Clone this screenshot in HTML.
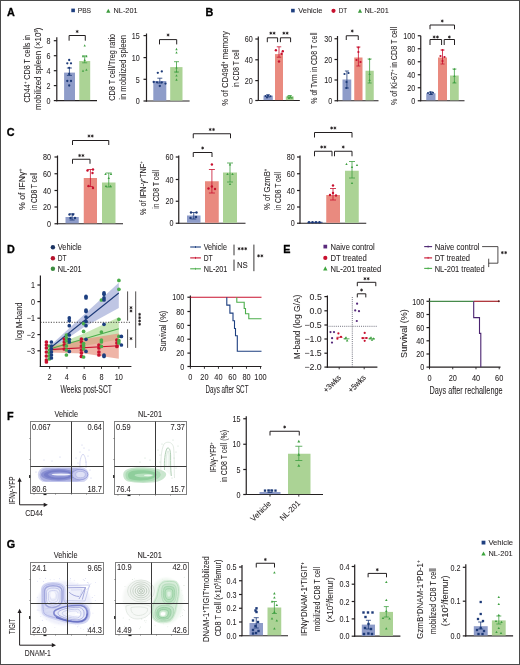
<!DOCTYPE html>
<html><head><meta charset="utf-8"><style>
html,body{margin:0;padding:0;background:#fff;}
body{width:520px;height:665px;overflow:hidden;}
svg{display:block;font-family:"Liberation Sans", sans-serif;will-change:transform;filter:blur(0.35px);}
.bd{position:absolute;left:0;top:0;width:520px;height:665px;box-sizing:border-box;border:1px solid #4a4a4a;}
.wrap{position:relative;width:520px;height:665px;overflow:hidden;background:#fff;}
text{-webkit-font-smoothing:antialiased;}
</style></head><body><div class="wrap">
<svg width="520" height="665" viewBox="0 0 520 665">
<defs><filter id="blur1" x="-20%" y="-20%" width="140%" height="140%"><feGaussianBlur stdDeviation="0.55"/></filter><filter id="blur2" x="-20%" y="-20%" width="140%" height="140%"><feGaussianBlur stdDeviation="0.8"/></filter></defs>
<rect x="0" y="0" width="520" height="665" fill="#fff"/>
<text x="7.04" y="16.2" font-size="10.8" font-weight="bold" fill="#000" stroke="#000" stroke-width="0.3">A</text>
<rect x="71.3" y="8.6" width="3.6" height="3.6" fill="#1f3f80" stroke="none" stroke-width="0" fill-opacity="1"/>
<text x="77.7" y="13.38" font-size="8" text-anchor="start" fill="#231f20" textLength="13.4" lengthAdjust="spacingAndGlyphs" stroke="#231f20" stroke-width="0.06">PBS</text>
<polygon points="108.3,8.81 106.2,12.79 110.4,12.79" fill="#3c9a3c" stroke="none" stroke-width="0" fill-opacity="1"/>
<text x="113.6" y="13.38" font-size="8" text-anchor="start" fill="#231f20" textLength="23.9" lengthAdjust="spacingAndGlyphs" stroke="#231f20" stroke-width="0.06">NL-201</text>
<line x1="56.8" y1="37.2" x2="56.8" y2="101.2" stroke="#231f20" stroke-width="1.2" stroke-linecap="butt"/>
<line x1="53.8" y1="100.6" x2="56.8" y2="100.6" stroke="#231f20" stroke-width="1.2" stroke-linecap="butt"/>
<text x="50.4" y="103.84" font-size="9" text-anchor="end" fill="#231f20" textLength="4" lengthAdjust="spacingAndGlyphs" stroke="#231f20" stroke-width="0.06">0</text>
<line x1="53.8" y1="85.6" x2="56.8" y2="85.6" stroke="#231f20" stroke-width="1.2" stroke-linecap="butt"/>
<text x="50.4" y="88.84" font-size="9" text-anchor="end" fill="#231f20" textLength="4" lengthAdjust="spacingAndGlyphs" stroke="#231f20" stroke-width="0.06">2</text>
<line x1="53.8" y1="70.7" x2="56.8" y2="70.7" stroke="#231f20" stroke-width="1.2" stroke-linecap="butt"/>
<text x="50.4" y="73.94" font-size="9" text-anchor="end" fill="#231f20" textLength="4" lengthAdjust="spacingAndGlyphs" stroke="#231f20" stroke-width="0.06">4</text>
<line x1="53.8" y1="55.7" x2="56.8" y2="55.7" stroke="#231f20" stroke-width="1.2" stroke-linecap="butt"/>
<text x="50.4" y="58.94" font-size="9" text-anchor="end" fill="#231f20" textLength="4" lengthAdjust="spacingAndGlyphs" stroke="#231f20" stroke-width="0.06">6</text>
<line x1="53.8" y1="40.7" x2="56.8" y2="40.7" stroke="#231f20" stroke-width="1.2" stroke-linecap="butt"/>
<text x="50.4" y="43.94" font-size="9" text-anchor="end" fill="#231f20" textLength="4" lengthAdjust="spacingAndGlyphs" stroke="#231f20" stroke-width="0.06">8</text>
<line x1="56.2" y1="100.6" x2="97" y2="100.6" stroke="#231f20" stroke-width="1.2" stroke-linecap="butt"/>
<rect x="64.1" y="72.6" width="10.9" height="27.6" fill="#8e9cc9" stroke="none" stroke-width="0" fill-opacity="1"/>
<rect x="79.3" y="61" width="10.9" height="39.2" fill="#abd395" stroke="none" stroke-width="0" fill-opacity="1"/>
<circle cx="69.2" cy="60" r="1.15" fill="#1d3a78"/>
<circle cx="67.3" cy="63.3" r="1.15" fill="#1d3a78"/>
<circle cx="71" cy="63.3" r="1.15" fill="#1d3a78"/>
<circle cx="69.2" cy="67.8" r="1.15" fill="#1d3a78"/>
<circle cx="67.3" cy="81" r="1.15" fill="#1d3a78"/>
<circle cx="71" cy="81" r="1.15" fill="#1d3a78"/>
<circle cx="69.2" cy="85.5" r="1.15" fill="#1d3a78"/>
<circle cx="69.2" cy="74" r="1.15" fill="#1d3a78"/>
<line x1="69.4" y1="68" x2="69.4" y2="75.4" stroke="#1d3a78" stroke-width="0.8" stroke-linecap="butt"/>
<line x1="66.9" y1="68" x2="71.9" y2="68" stroke="#1d3a78" stroke-width="0.8" stroke-linecap="butt"/>
<line x1="66.9" y1="75.4" x2="71.9" y2="75.4" stroke="#1d3a78" stroke-width="0.8" stroke-linecap="butt"/>
<polygon points="84.7,44.27 83.55,46.53 85.85,46.53" fill="#3fa041" stroke="none" stroke-width="0" fill-opacity="1"/>
<polygon points="83,55.06 81.85,57.33 84.15,57.33" fill="#3fa041" stroke="none" stroke-width="0" fill-opacity="1"/>
<polygon points="86.4,55.06 85.25,57.33 87.55,57.33" fill="#3fa041" stroke="none" stroke-width="0" fill-opacity="1"/>
<polygon points="83,69.56 81.85,71.83 84.15,71.83" fill="#3fa041" stroke="none" stroke-width="0" fill-opacity="1"/>
<polygon points="86.4,68.56 85.25,70.83 87.55,70.83" fill="#3fa041" stroke="none" stroke-width="0" fill-opacity="1"/>
<polygon points="84.7,58.77 83.55,61.03 85.85,61.03" fill="#3fa041" stroke="none" stroke-width="0" fill-opacity="1"/>
<line x1="84.7" y1="55.9" x2="84.7" y2="62.8" stroke="#3fa041" stroke-width="0.8" stroke-linecap="butt"/>
<line x1="82.2" y1="55.9" x2="87.2" y2="55.9" stroke="#3fa041" stroke-width="0.8" stroke-linecap="butt"/>
<line x1="82.2" y1="62.8" x2="87.2" y2="62.8" stroke="#3fa041" stroke-width="0.8" stroke-linecap="butt"/>
<polyline points="69.1,40.7 69.1,35.5 85.3,35.5 85.3,40.7" fill="none" stroke="#231f20" stroke-width="1.0" />
<path d="M77.2,30.3L77.2,32.7M78.24,30.9L76.16,32.1M78.24,32.1L76.16,30.9" stroke="#231f20" stroke-width="0.65" fill="none" stroke-linecap="round"/>
<circle cx="77.2" cy="31.5" r="0.85" fill="#231f20"/>
<text transform="translate(26.3,68.8) rotate(-90)" x="0" y="3.35" font-size="9.3" text-anchor="middle" fill="#231f20" textLength="67.6" lengthAdjust="spacingAndGlyphs" stroke="#231f20" stroke-width="0.06">CD44<tspan baseline-shift="super" font-size="5.2">+</tspan> CD8 T cells in</text>
<text transform="translate(37.8,68.75) rotate(-90)" x="0" y="3.35" font-size="9.3" text-anchor="middle" fill="#231f20" textLength="82.5" lengthAdjust="spacingAndGlyphs" stroke="#231f20" stroke-width="0.06">mobilized spleen (×10<tspan baseline-shift="super" font-size="5.2">6</tspan>)</text>
<line x1="146.5" y1="33.5" x2="146.5" y2="101.6" stroke="#231f20" stroke-width="1.2" stroke-linecap="butt"/>
<line x1="143.5" y1="101" x2="146.5" y2="101" stroke="#231f20" stroke-width="1.2" stroke-linecap="butt"/>
<text x="139.7" y="104.24" font-size="9" text-anchor="end" fill="#231f20" textLength="4" lengthAdjust="spacingAndGlyphs" stroke="#231f20" stroke-width="0.06">0</text>
<line x1="143.5" y1="79.3" x2="146.5" y2="79.3" stroke="#231f20" stroke-width="1.2" stroke-linecap="butt"/>
<text x="139.7" y="82.54" font-size="9" text-anchor="end" fill="#231f20" textLength="4" lengthAdjust="spacingAndGlyphs" stroke="#231f20" stroke-width="0.06">5</text>
<line x1="143.5" y1="57.6" x2="146.5" y2="57.6" stroke="#231f20" stroke-width="1.2" stroke-linecap="butt"/>
<text x="139.7" y="60.84" font-size="9" text-anchor="end" fill="#231f20" textLength="8.01" lengthAdjust="spacingAndGlyphs" stroke="#231f20" stroke-width="0.06">10</text>
<line x1="143.5" y1="35.6" x2="146.5" y2="35.6" stroke="#231f20" stroke-width="1.2" stroke-linecap="butt"/>
<text x="139.7" y="38.84" font-size="9" text-anchor="end" fill="#231f20" textLength="8.01" lengthAdjust="spacingAndGlyphs" stroke="#231f20" stroke-width="0.06">15</text>
<line x1="145.9" y1="101" x2="189.6" y2="101" stroke="#231f20" stroke-width="1.2" stroke-linecap="butt"/>
<rect x="153.3" y="81" width="13" height="19.6" fill="#8e9cc9" stroke="none" stroke-width="0" fill-opacity="1"/>
<rect x="170.2" y="67.1" width="12.3" height="33.5" fill="#abd395" stroke="none" stroke-width="0" fill-opacity="1"/>
<circle cx="157.8" cy="72.8" r="1.15" fill="#1d3a78"/>
<circle cx="161.8" cy="71.4" r="1.15" fill="#1d3a78"/>
<circle cx="153.7" cy="82" r="1.15" fill="#1d3a78"/>
<circle cx="165.5" cy="83.6" r="1.15" fill="#1d3a78"/>
<circle cx="157" cy="82.3" r="1.15" fill="#1d3a78"/>
<circle cx="159.8" cy="86" r="1.15" fill="#1d3a78"/>
<circle cx="161.8" cy="82.3" r="1.15" fill="#1d3a78"/>
<line x1="159.8" y1="78.2" x2="159.8" y2="83" stroke="#1d3a78" stroke-width="0.8" stroke-linecap="butt"/>
<line x1="157.3" y1="78.2" x2="162.3" y2="78.2" stroke="#1d3a78" stroke-width="0.8" stroke-linecap="butt"/>
<line x1="157.3" y1="83" x2="162.3" y2="83" stroke="#1d3a78" stroke-width="0.8" stroke-linecap="butt"/>
<polygon points="176.5,47.87 175.35,50.13 177.65,50.13" fill="#3fa041" stroke="none" stroke-width="0" fill-opacity="1"/>
<polygon points="176.5,51.27 175.35,53.53 177.65,53.53" fill="#3fa041" stroke="none" stroke-width="0" fill-opacity="1"/>
<polygon points="176.5,66.17 175.35,68.44 177.65,68.44" fill="#3fa041" stroke="none" stroke-width="0" fill-opacity="1"/>
<polygon points="176.5,70.17 175.35,72.44 177.65,72.44" fill="#3fa041" stroke="none" stroke-width="0" fill-opacity="1"/>
<polygon points="176.5,74.27 175.35,76.53 177.65,76.53" fill="#3fa041" stroke="none" stroke-width="0" fill-opacity="1"/>
<polygon points="176.5,78.36 175.35,80.63 177.65,80.63" fill="#3fa041" stroke="none" stroke-width="0" fill-opacity="1"/>
<line x1="176.5" y1="61.7" x2="176.5" y2="72" stroke="#3fa041" stroke-width="0.8" stroke-linecap="butt"/>
<line x1="174" y1="61.7" x2="179" y2="61.7" stroke="#3fa041" stroke-width="0.8" stroke-linecap="butt"/>
<line x1="174" y1="72" x2="179" y2="72" stroke="#3fa041" stroke-width="0.8" stroke-linecap="butt"/>
<polyline points="159.5,44.4 159.5,39.6 176.7,39.6 176.7,44.4" fill="none" stroke="#231f20" stroke-width="1.0" />
<path d="M168.1,33.8L168.1,36.2M169.14,34.4L167.06,35.6M169.14,35.6L167.06,34.4" stroke="#231f20" stroke-width="0.65" fill="none" stroke-linecap="round"/>
<circle cx="168.1" cy="35" r="0.85" fill="#231f20"/>
<text transform="translate(112,67.35) rotate(-90)" x="0" y="3.35" font-size="9.3" text-anchor="middle" fill="#231f20" textLength="66.9" lengthAdjust="spacingAndGlyphs" stroke="#231f20" stroke-width="0.06">CD8 T cell/Treg ratio</text>
<text transform="translate(122.3,67.35) rotate(-90)" x="0" y="3.35" font-size="9.3" text-anchor="middle" fill="#231f20" textLength="64.7" lengthAdjust="spacingAndGlyphs" stroke="#231f20" stroke-width="0.06">in mobilized spleen</text>
<text x="205.6" y="16.2" font-size="10.8" font-weight="bold" fill="#000" stroke="#000" stroke-width="0.3">B</text>
<rect x="291.1" y="8.8" width="3.6" height="3.6" fill="#1f3f80" stroke="none" stroke-width="0" fill-opacity="1"/>
<text x="298.2" y="13.38" font-size="8" text-anchor="start" fill="#231f20" textLength="24.1" lengthAdjust="spacingAndGlyphs" stroke="#231f20" stroke-width="0.06">Vehicle</text>
<circle cx="333.5" cy="10.8" r="2.1" fill="#c8102e"/>
<text x="338.7" y="13.38" font-size="8" text-anchor="start" fill="#231f20" textLength="8.5" lengthAdjust="spacingAndGlyphs" stroke="#231f20" stroke-width="0.06">DT</text>
<polygon points="360,8.81 357.9,12.79 362.1,12.79" fill="#3c9a3c" stroke="none" stroke-width="0" fill-opacity="1"/>
<text x="364.5" y="13.38" font-size="8" text-anchor="start" fill="#231f20" textLength="24.25" lengthAdjust="spacingAndGlyphs" stroke="#231f20" stroke-width="0.06">NL-201</text>
<line x1="258.3" y1="36.4" x2="258.3" y2="101.1" stroke="#231f20" stroke-width="1.2" stroke-linecap="butt"/>
<line x1="255.3" y1="100.5" x2="258.3" y2="100.5" stroke="#231f20" stroke-width="1.2" stroke-linecap="butt"/>
<text x="252.8" y="103.74" font-size="9" text-anchor="end" fill="#231f20" textLength="4" lengthAdjust="spacingAndGlyphs" stroke="#231f20" stroke-width="0.06">0</text>
<line x1="255.3" y1="80.6" x2="258.3" y2="80.6" stroke="#231f20" stroke-width="1.2" stroke-linecap="butt"/>
<text x="252.8" y="83.84" font-size="9" text-anchor="end" fill="#231f20" textLength="8.01" lengthAdjust="spacingAndGlyphs" stroke="#231f20" stroke-width="0.06">20</text>
<line x1="255.3" y1="59.8" x2="258.3" y2="59.8" stroke="#231f20" stroke-width="1.2" stroke-linecap="butt"/>
<text x="252.8" y="63.04" font-size="9" text-anchor="end" fill="#231f20" textLength="8.01" lengthAdjust="spacingAndGlyphs" stroke="#231f20" stroke-width="0.06">40</text>
<line x1="255.3" y1="39" x2="258.3" y2="39" stroke="#231f20" stroke-width="1.2" stroke-linecap="butt"/>
<text x="252.8" y="42.24" font-size="9" text-anchor="end" fill="#231f20" textLength="8.01" lengthAdjust="spacingAndGlyphs" stroke="#231f20" stroke-width="0.06">60</text>
<line x1="257.7" y1="100.5" x2="299.8" y2="100.5" stroke="#231f20" stroke-width="1.2" stroke-linecap="butt"/>
<rect x="263.5" y="95.6" width="9.3" height="4.5" fill="#8e9cc9" stroke="none" stroke-width="0" fill-opacity="1"/>
<rect x="275" y="54.1" width="8" height="46" fill="#e98a7f" stroke="none" stroke-width="0" fill-opacity="1"/>
<rect x="285.8" y="96.4" width="7.9" height="3.7" fill="#abd395" stroke="none" stroke-width="0" fill-opacity="1"/>
<circle cx="265.5" cy="96" r="1" fill="#1d3a78"/>
<circle cx="268" cy="95.5" r="1" fill="#1d3a78"/>
<circle cx="270.5" cy="96.2" r="1" fill="#1d3a78"/>
<circle cx="267" cy="97.5" r="1" fill="#1d3a78"/>
<polygon points="288,95.27 286.85,97.53 289.15,97.53" fill="#3fa041" stroke="none" stroke-width="0" fill-opacity="1"/>
<polygon points="290.5,95.56 289.35,97.83 291.65,97.83" fill="#3fa041" stroke="none" stroke-width="0" fill-opacity="1"/>
<polygon points="292,96.27 290.85,98.53 293.15,98.53" fill="#3fa041" stroke="none" stroke-width="0" fill-opacity="1"/>
<polygon points="289,96.77 287.85,99.03 290.15,99.03" fill="#3fa041" stroke="none" stroke-width="0" fill-opacity="1"/>
<line x1="268" y1="94.8" x2="268" y2="97" stroke="#1d3a78" stroke-width="0.8" stroke-linecap="butt"/>
<line x1="266" y1="94.8" x2="270" y2="94.8" stroke="#1d3a78" stroke-width="0.8" stroke-linecap="butt"/>
<line x1="266" y1="97" x2="270" y2="97" stroke="#1d3a78" stroke-width="0.8" stroke-linecap="butt"/>
<line x1="289.8" y1="95.5" x2="289.8" y2="98" stroke="#3fa041" stroke-width="0.8" stroke-linecap="butt"/>
<line x1="287.8" y1="95.5" x2="291.8" y2="95.5" stroke="#3fa041" stroke-width="0.8" stroke-linecap="butt"/>
<line x1="287.8" y1="98" x2="291.8" y2="98" stroke="#3fa041" stroke-width="0.8" stroke-linecap="butt"/>
<circle cx="275.9" cy="50.3" r="1.2" fill="#c8102e"/>
<circle cx="282.8" cy="51.2" r="1.2" fill="#c8102e"/>
<circle cx="281.6" cy="53.7" r="1.2" fill="#c8102e"/>
<circle cx="279" cy="61.5" r="1.2" fill="#c8102e"/>
<line x1="279" y1="46.8" x2="279" y2="57.2" stroke="#c8102e" stroke-width="0.8" stroke-linecap="butt"/>
<line x1="276.75" y1="46.8" x2="281.25" y2="46.8" stroke="#c8102e" stroke-width="0.8" stroke-linecap="butt"/>
<line x1="276.75" y1="57.2" x2="281.25" y2="57.2" stroke="#c8102e" stroke-width="0.8" stroke-linecap="butt"/>
<polyline points="267.3,42.2 267.3,37.8 277.6,37.8 277.6,42.2" fill="none" stroke="#231f20" stroke-width="1.0" />
<path d="M270.8,32L270.8,34.4M271.84,32.6L269.76,33.8M271.84,33.8L269.76,32.6" stroke="#231f20" stroke-width="0.65" fill="none" stroke-linecap="round"/>
<circle cx="270.8" cy="33.2" r="0.85" fill="#231f20"/>
<path d="M274.1,32L274.1,34.4M275.14,32.6L273.06,33.8M275.14,33.8L273.06,32.6" stroke="#231f20" stroke-width="0.65" fill="none" stroke-linecap="round"/>
<circle cx="274.1" cy="33.2" r="0.85" fill="#231f20"/>
<polyline points="280.4,42.2 280.4,37.8 290.6,37.8 290.6,42.2" fill="none" stroke="#231f20" stroke-width="1.0" />
<path d="M283.85,32L283.85,34.4M284.89,32.6L282.81,33.8M284.89,33.8L282.81,32.6" stroke="#231f20" stroke-width="0.65" fill="none" stroke-linecap="round"/>
<circle cx="283.85" cy="33.2" r="0.85" fill="#231f20"/>
<path d="M287.15,32L287.15,34.4M288.19,32.6L286.11,33.8M288.19,33.8L286.11,32.6" stroke="#231f20" stroke-width="0.65" fill="none" stroke-linecap="round"/>
<circle cx="287.15" cy="33.2" r="0.85" fill="#231f20"/>
<text transform="translate(224.5,68.45) rotate(-90)" x="0" y="3.35" font-size="9.3" text-anchor="middle" fill="#231f20" textLength="74.5" lengthAdjust="spacingAndGlyphs" stroke="#231f20" stroke-width="0.06">% of CD49d<tspan baseline-shift="super" font-size="5.2">+</tspan> memory</text>
<text transform="translate(235.8,68.45) rotate(-90)" x="0" y="3.35" font-size="9.3" text-anchor="middle" fill="#231f20" textLength="38.1" lengthAdjust="spacingAndGlyphs" stroke="#231f20" stroke-width="0.06">in CD8 T cell</text>
<line x1="337.5" y1="36" x2="337.5" y2="101.35" stroke="#231f20" stroke-width="1.2" stroke-linecap="butt"/>
<line x1="334.5" y1="100.75" x2="337.5" y2="100.75" stroke="#231f20" stroke-width="1.2" stroke-linecap="butt"/>
<text x="332.3" y="103.99" font-size="9" text-anchor="end" fill="#231f20" textLength="4" lengthAdjust="spacingAndGlyphs" stroke="#231f20" stroke-width="0.06">0</text>
<line x1="334.5" y1="80" x2="337.5" y2="80" stroke="#231f20" stroke-width="1.2" stroke-linecap="butt"/>
<text x="332.3" y="83.24" font-size="9" text-anchor="end" fill="#231f20" textLength="8.01" lengthAdjust="spacingAndGlyphs" stroke="#231f20" stroke-width="0.06">10</text>
<line x1="334.5" y1="59.5" x2="337.5" y2="59.5" stroke="#231f20" stroke-width="1.2" stroke-linecap="butt"/>
<text x="332.3" y="62.74" font-size="9" text-anchor="end" fill="#231f20" textLength="8.01" lengthAdjust="spacingAndGlyphs" stroke="#231f20" stroke-width="0.06">20</text>
<line x1="334.5" y1="38.75" x2="337.5" y2="38.75" stroke="#231f20" stroke-width="1.2" stroke-linecap="butt"/>
<text x="332.3" y="41.99" font-size="9" text-anchor="end" fill="#231f20" textLength="8.01" lengthAdjust="spacingAndGlyphs" stroke="#231f20" stroke-width="0.06">30</text>
<line x1="336.9" y1="100.75" x2="378.5" y2="100.75" stroke="#231f20" stroke-width="1.2" stroke-linecap="butt"/>
<rect x="342.5" y="79.5" width="8.75" height="20.8" fill="#8e9cc9" stroke="none" stroke-width="0" fill-opacity="1"/>
<rect x="354.25" y="57.5" width="8.25" height="42.8" fill="#e98a7f" stroke="none" stroke-width="0" fill-opacity="1"/>
<rect x="365.5" y="70.75" width="8.25" height="29.55" fill="#abd395" stroke="none" stroke-width="0" fill-opacity="1"/>
<circle cx="344.5" cy="74" r="1.1" fill="#1d3a78"/>
<circle cx="348.5" cy="73" r="1.1" fill="#1d3a78"/>
<circle cx="346.5" cy="82" r="1.1" fill="#1d3a78"/>
<circle cx="346.5" cy="88" r="1.1" fill="#1d3a78"/>
<line x1="346.9" y1="71" x2="346.9" y2="88" stroke="#1d3a78" stroke-width="0.8" stroke-linecap="butt"/>
<line x1="344.9" y1="71" x2="348.9" y2="71" stroke="#1d3a78" stroke-width="0.8" stroke-linecap="butt"/>
<line x1="344.9" y1="88" x2="348.9" y2="88" stroke="#1d3a78" stroke-width="0.8" stroke-linecap="butt"/>
<circle cx="358.4" cy="47.5" r="1.1" fill="#c8102e"/>
<circle cx="358.4" cy="52" r="1.1" fill="#c8102e"/>
<circle cx="356.5" cy="60" r="1.1" fill="#c8102e"/>
<circle cx="360.5" cy="62" r="1.1" fill="#c8102e"/>
<line x1="358.4" y1="47" x2="358.4" y2="66" stroke="#c8102e" stroke-width="0.8" stroke-linecap="butt"/>
<line x1="356.4" y1="47" x2="360.4" y2="47" stroke="#c8102e" stroke-width="0.8" stroke-linecap="butt"/>
<line x1="356.4" y1="66" x2="360.4" y2="66" stroke="#c8102e" stroke-width="0.8" stroke-linecap="butt"/>
<polygon points="369.6,57.77 368.45,60.03 370.75,60.03" fill="#3fa041" stroke="none" stroke-width="0" fill-opacity="1"/>
<polygon points="369.6,72.77 368.45,75.03 370.75,75.03" fill="#3fa041" stroke="none" stroke-width="0" fill-opacity="1"/>
<polygon points="369.6,78.77 368.45,81.03 370.75,81.03" fill="#3fa041" stroke="none" stroke-width="0" fill-opacity="1"/>
<line x1="369.6" y1="59" x2="369.6" y2="83" stroke="#3fa041" stroke-width="0.8" stroke-linecap="butt"/>
<line x1="367.6" y1="59" x2="371.6" y2="59" stroke="#3fa041" stroke-width="0.8" stroke-linecap="butt"/>
<line x1="367.6" y1="83" x2="371.6" y2="83" stroke="#3fa041" stroke-width="0.8" stroke-linecap="butt"/>
<polyline points="346.25,40 346.25,35.75 358.25,35.75 358.25,40" fill="none" stroke="#231f20" stroke-width="1.0" />
<path d="M352.25,29.8L352.25,32.2M353.29,30.4L351.21,31.6M353.29,31.6L351.21,30.4" stroke="#231f20" stroke-width="0.65" fill="none" stroke-linecap="round"/>
<circle cx="352.25" cy="31" r="0.85" fill="#231f20"/>
<text transform="translate(313.75,68.12) rotate(-90)" x="0" y="3.35" font-size="9.3" text-anchor="middle" fill="#231f20" textLength="71.25" lengthAdjust="spacingAndGlyphs" stroke="#231f20" stroke-width="0.06">% of Tvm in CD8 T cell</text>
<line x1="420.75" y1="35.75" x2="420.75" y2="101.35" stroke="#231f20" stroke-width="1.2" stroke-linecap="butt"/>
<line x1="417.75" y1="100.75" x2="420.75" y2="100.75" stroke="#231f20" stroke-width="1.2" stroke-linecap="butt"/>
<text x="415.3" y="103.99" font-size="9" text-anchor="end" fill="#231f20" textLength="4" lengthAdjust="spacingAndGlyphs" stroke="#231f20" stroke-width="0.06">0</text>
<line x1="417.75" y1="87.75" x2="420.75" y2="87.75" stroke="#231f20" stroke-width="1.2" stroke-linecap="butt"/>
<text x="415.3" y="90.99" font-size="9" text-anchor="end" fill="#231f20" textLength="8.01" lengthAdjust="spacingAndGlyphs" stroke="#231f20" stroke-width="0.06">20</text>
<line x1="417.75" y1="74.75" x2="420.75" y2="74.75" stroke="#231f20" stroke-width="1.2" stroke-linecap="butt"/>
<text x="415.3" y="77.99" font-size="9" text-anchor="end" fill="#231f20" textLength="8.01" lengthAdjust="spacingAndGlyphs" stroke="#231f20" stroke-width="0.06">40</text>
<line x1="417.75" y1="61.75" x2="420.75" y2="61.75" stroke="#231f20" stroke-width="1.2" stroke-linecap="butt"/>
<text x="415.3" y="64.99" font-size="9" text-anchor="end" fill="#231f20" textLength="8.01" lengthAdjust="spacingAndGlyphs" stroke="#231f20" stroke-width="0.06">60</text>
<line x1="417.75" y1="48.75" x2="420.75" y2="48.75" stroke="#231f20" stroke-width="1.2" stroke-linecap="butt"/>
<text x="415.3" y="51.99" font-size="9" text-anchor="end" fill="#231f20" textLength="8.01" lengthAdjust="spacingAndGlyphs" stroke="#231f20" stroke-width="0.06">80</text>
<line x1="417.75" y1="35.75" x2="420.75" y2="35.75" stroke="#231f20" stroke-width="1.2" stroke-linecap="butt"/>
<text x="415.3" y="38.99" font-size="9" text-anchor="end" fill="#231f20" textLength="12.01" lengthAdjust="spacingAndGlyphs" stroke="#231f20" stroke-width="0.06">100</text>
<line x1="420.15" y1="100.75" x2="464.5" y2="100.75" stroke="#231f20" stroke-width="1.2" stroke-linecap="butt"/>
<rect x="426.25" y="93.25" width="9.25" height="7.05" fill="#8e9cc9" stroke="none" stroke-width="0" fill-opacity="1"/>
<rect x="438" y="57.5" width="9" height="42.8" fill="#e98a7f" stroke="none" stroke-width="0" fill-opacity="1"/>
<rect x="450" y="75.5" width="8.75" height="24.8" fill="#abd395" stroke="none" stroke-width="0" fill-opacity="1"/>
<circle cx="428" cy="93" r="1" fill="#1d3a78"/>
<circle cx="430.5" cy="92.3" r="1" fill="#1d3a78"/>
<circle cx="433" cy="92.8" r="1" fill="#1d3a78"/>
<circle cx="431" cy="94" r="1" fill="#1d3a78"/>
<line x1="430.9" y1="92" x2="430.9" y2="94.5" stroke="#1d3a78" stroke-width="0.8" stroke-linecap="butt"/>
<line x1="428.9" y1="92" x2="432.9" y2="92" stroke="#1d3a78" stroke-width="0.8" stroke-linecap="butt"/>
<line x1="428.9" y1="94.5" x2="432.9" y2="94.5" stroke="#1d3a78" stroke-width="0.8" stroke-linecap="butt"/>
<circle cx="442.5" cy="50" r="1.1" fill="#c8102e"/>
<circle cx="440.5" cy="56" r="1.1" fill="#c8102e"/>
<circle cx="444.5" cy="57" r="1.1" fill="#c8102e"/>
<circle cx="442.5" cy="61" r="1.1" fill="#c8102e"/>
<line x1="442.5" y1="50" x2="442.5" y2="64" stroke="#c8102e" stroke-width="0.8" stroke-linecap="butt"/>
<line x1="440.5" y1="50" x2="444.5" y2="50" stroke="#c8102e" stroke-width="0.8" stroke-linecap="butt"/>
<line x1="440.5" y1="64" x2="444.5" y2="64" stroke="#c8102e" stroke-width="0.8" stroke-linecap="butt"/>
<polygon points="454.4,67.77 453.25,70.03 455.55,70.03" fill="#3fa041" stroke="none" stroke-width="0" fill-opacity="1"/>
<polygon points="454.4,74.77 453.25,77.03 455.55,77.03" fill="#3fa041" stroke="none" stroke-width="0" fill-opacity="1"/>
<polygon points="454.4,80.77 453.25,83.03 455.55,83.03" fill="#3fa041" stroke="none" stroke-width="0" fill-opacity="1"/>
<line x1="454.4" y1="69" x2="454.4" y2="83" stroke="#3fa041" stroke-width="0.8" stroke-linecap="butt"/>
<line x1="452.4" y1="69" x2="456.4" y2="69" stroke="#3fa041" stroke-width="0.8" stroke-linecap="butt"/>
<line x1="452.4" y1="83" x2="456.4" y2="83" stroke="#3fa041" stroke-width="0.8" stroke-linecap="butt"/>
<polyline points="430,29.25 430,25 454.5,25 454.5,29.25" fill="none" stroke="#231f20" stroke-width="1.0" />
<path d="M442.25,19.8L442.25,22.2M443.29,20.4L441.21,21.6M443.29,21.6L441.21,20.4" stroke="#231f20" stroke-width="0.65" fill="none" stroke-linecap="round"/>
<circle cx="442.25" cy="21" r="0.85" fill="#231f20"/>
<polyline points="430,45 430,39.5 441.6,39.5 441.6,45" fill="none" stroke="#231f20" stroke-width="1.0" />
<path d="M434.15,35.8L434.15,38.2M435.19,36.4L433.11,37.6M435.19,37.6L433.11,36.4" stroke="#231f20" stroke-width="0.65" fill="none" stroke-linecap="round"/>
<circle cx="434.15" cy="37" r="0.85" fill="#231f20"/>
<path d="M437.45,35.8L437.45,38.2M438.49,36.4L436.41,37.6M438.49,37.6L436.41,36.4" stroke="#231f20" stroke-width="0.65" fill="none" stroke-linecap="round"/>
<circle cx="437.45" cy="37" r="0.85" fill="#231f20"/>
<polyline points="444.2,45 444.2,39.5 454.5,39.5 454.5,45" fill="none" stroke="#231f20" stroke-width="1.0" />
<path d="M449.35,35.8L449.35,38.2M450.39,36.4L448.31,37.6M450.39,37.6L448.31,36.4" stroke="#231f20" stroke-width="0.65" fill="none" stroke-linecap="round"/>
<circle cx="449.35" cy="37" r="0.85" fill="#231f20"/>
<text transform="translate(393.75,66) rotate(-90)" x="0" y="3.35" font-size="9.3" text-anchor="middle" fill="#231f20" textLength="78" lengthAdjust="spacingAndGlyphs" stroke="#231f20" stroke-width="0.06">% of Ki-67<tspan baseline-shift="super" font-size="5.2">+</tspan> in CD8 T cell</text>
<text x="6.86" y="136.1" font-size="10.8" font-weight="bold" fill="#000" stroke="#000" stroke-width="0.3">C</text>
<line x1="57.5" y1="155.5" x2="57.5" y2="224.35" stroke="#231f20" stroke-width="1.2" stroke-linecap="butt"/>
<line x1="54.5" y1="223.75" x2="57.5" y2="223.75" stroke="#231f20" stroke-width="1.2" stroke-linecap="butt"/>
<text x="51" y="226.99" font-size="9" text-anchor="end" fill="#231f20" textLength="4" lengthAdjust="spacingAndGlyphs" stroke="#231f20" stroke-width="0.06">0</text>
<line x1="54.5" y1="207" x2="57.5" y2="207" stroke="#231f20" stroke-width="1.2" stroke-linecap="butt"/>
<text x="51" y="210.24" font-size="9" text-anchor="end" fill="#231f20" textLength="8.01" lengthAdjust="spacingAndGlyphs" stroke="#231f20" stroke-width="0.06">20</text>
<line x1="54.5" y1="190.5" x2="57.5" y2="190.5" stroke="#231f20" stroke-width="1.2" stroke-linecap="butt"/>
<text x="51" y="193.74" font-size="9" text-anchor="end" fill="#231f20" textLength="8.01" lengthAdjust="spacingAndGlyphs" stroke="#231f20" stroke-width="0.06">40</text>
<line x1="54.5" y1="173.75" x2="57.5" y2="173.75" stroke="#231f20" stroke-width="1.2" stroke-linecap="butt"/>
<text x="51" y="176.99" font-size="9" text-anchor="end" fill="#231f20" textLength="8.01" lengthAdjust="spacingAndGlyphs" stroke="#231f20" stroke-width="0.06">60</text>
<line x1="54.5" y1="157" x2="57.5" y2="157" stroke="#231f20" stroke-width="1.2" stroke-linecap="butt"/>
<text x="51" y="160.24" font-size="9" text-anchor="end" fill="#231f20" textLength="8.01" lengthAdjust="spacingAndGlyphs" stroke="#231f20" stroke-width="0.06">80</text>
<line x1="56.9" y1="223.75" x2="123" y2="223.75" stroke="#231f20" stroke-width="1.2" stroke-linecap="butt"/>
<rect x="65.5" y="217" width="13.25" height="6.3" fill="#8e9cc9" stroke="none" stroke-width="0" fill-opacity="1"/>
<rect x="83.75" y="178" width="13.25" height="45.3" fill="#e98a7f" stroke="none" stroke-width="0" fill-opacity="1"/>
<rect x="102" y="182.5" width="13.5" height="40.8" fill="#abd395" stroke="none" stroke-width="0" fill-opacity="1"/>
<circle cx="69.5" cy="214.5" r="1.2" fill="#1d3a78"/>
<circle cx="73" cy="214.5" r="1.2" fill="#1d3a78"/>
<circle cx="70.5" cy="218" r="1.2" fill="#1d3a78"/>
<circle cx="75" cy="218" r="1.2" fill="#1d3a78"/>
<line x1="72.1" y1="213.8" x2="72.1" y2="220" stroke="#1d3a78" stroke-width="0.8" stroke-linecap="butt"/>
<line x1="69.6" y1="213.8" x2="74.6" y2="213.8" stroke="#1d3a78" stroke-width="0.8" stroke-linecap="butt"/>
<line x1="69.6" y1="220" x2="74.6" y2="220" stroke="#1d3a78" stroke-width="0.8" stroke-linecap="butt"/>
<circle cx="87.5" cy="170.5" r="1.2" fill="#c8102e"/>
<circle cx="93" cy="169.5" r="1.2" fill="#c8102e"/>
<circle cx="92.5" cy="173" r="1.2" fill="#c8102e"/>
<circle cx="88.5" cy="186" r="1.2" fill="#c8102e"/>
<circle cx="93" cy="188" r="1.2" fill="#c8102e"/>
<line x1="90.4" y1="169.5" x2="90.4" y2="186.5" stroke="#c8102e" stroke-width="0.8" stroke-linecap="butt"/>
<line x1="87.4" y1="169.5" x2="93.4" y2="169.5" stroke="#c8102e" stroke-width="0.8" stroke-linecap="butt"/>
<line x1="87.4" y1="186.5" x2="93.4" y2="186.5" stroke="#c8102e" stroke-width="0.8" stroke-linecap="butt"/>
<polygon points="105.5,172.72 104.3,175.08 106.7,175.08" fill="#3fa041" stroke="none" stroke-width="0" fill-opacity="1"/>
<polygon points="111,172.72 109.8,175.08 112.2,175.08" fill="#3fa041" stroke="none" stroke-width="0" fill-opacity="1"/>
<polygon points="108.75,176.72 107.55,179.08 109.95,179.08" fill="#3fa041" stroke="none" stroke-width="0" fill-opacity="1"/>
<polygon points="106,184.72 104.8,187.08 107.2,187.08" fill="#3fa041" stroke="none" stroke-width="0" fill-opacity="1"/>
<polygon points="110.5,184.72 109.3,187.08 111.7,187.08" fill="#3fa041" stroke="none" stroke-width="0" fill-opacity="1"/>
<line x1="108.75" y1="173" x2="108.75" y2="187" stroke="#3fa041" stroke-width="0.8" stroke-linecap="butt"/>
<line x1="105.75" y1="173" x2="111.75" y2="173" stroke="#3fa041" stroke-width="0.8" stroke-linecap="butt"/>
<line x1="105.75" y1="187" x2="111.75" y2="187" stroke="#3fa041" stroke-width="0.8" stroke-linecap="butt"/>
<polyline points="72.5,163.75 72.5,159.25 90,159.25 90,163.75" fill="none" stroke="#231f20" stroke-width="1.0" />
<path d="M79.6,154.3L79.6,156.7M80.64,154.9L78.56,156.1M80.64,156.1L78.56,154.9" stroke="#231f20" stroke-width="0.65" fill="none" stroke-linecap="round"/>
<circle cx="79.6" cy="155.5" r="0.85" fill="#231f20"/>
<path d="M82.9,154.3L82.9,156.7M83.94,154.9L81.86,156.1M83.94,156.1L81.86,154.9" stroke="#231f20" stroke-width="0.65" fill="none" stroke-linecap="round"/>
<circle cx="82.9" cy="155.5" r="0.85" fill="#231f20"/>
<polyline points="72.5,145 72.5,140.5 108.75,140.5 108.75,145" fill="none" stroke="#231f20" stroke-width="1.0" />
<path d="M88.97,134.8L88.97,137.2M90.01,135.4L87.94,136.6M90.01,136.6L87.94,135.4" stroke="#231f20" stroke-width="0.65" fill="none" stroke-linecap="round"/>
<circle cx="88.97" cy="136" r="0.85" fill="#231f20"/>
<path d="M92.28,134.8L92.28,137.2M93.31,135.4L91.24,136.6M93.31,136.6L91.24,135.4" stroke="#231f20" stroke-width="0.65" fill="none" stroke-linecap="round"/>
<circle cx="92.28" cy="136" r="0.85" fill="#231f20"/>
<text transform="translate(22,189.38) rotate(-90)" x="0" y="3.35" font-size="9.3" text-anchor="middle" fill="#231f20" textLength="41.25" lengthAdjust="spacingAndGlyphs" stroke="#231f20" stroke-width="0.06">% of IFNγ<tspan baseline-shift="super" font-size="5.2">+</tspan></text>
<text transform="translate(33.75,191.25) rotate(-90)" x="0" y="3.35" font-size="9.3" text-anchor="middle" fill="#231f20" textLength="37.5" lengthAdjust="spacingAndGlyphs" stroke="#231f20" stroke-width="0.06">in CD8 T cell</text>
<line x1="178.75" y1="155.5" x2="178.75" y2="223.85" stroke="#231f20" stroke-width="1.2" stroke-linecap="butt"/>
<line x1="175.75" y1="223.25" x2="178.75" y2="223.25" stroke="#231f20" stroke-width="1.2" stroke-linecap="butt"/>
<text x="173.5" y="226.49" font-size="9" text-anchor="end" fill="#231f20" textLength="4" lengthAdjust="spacingAndGlyphs" stroke="#231f20" stroke-width="0.06">0</text>
<line x1="175.75" y1="201.25" x2="178.75" y2="201.25" stroke="#231f20" stroke-width="1.2" stroke-linecap="butt"/>
<text x="173.5" y="204.49" font-size="9" text-anchor="end" fill="#231f20" textLength="8.01" lengthAdjust="spacingAndGlyphs" stroke="#231f20" stroke-width="0.06">20</text>
<line x1="175.75" y1="179.5" x2="178.75" y2="179.5" stroke="#231f20" stroke-width="1.2" stroke-linecap="butt"/>
<text x="173.5" y="182.74" font-size="9" text-anchor="end" fill="#231f20" textLength="8.01" lengthAdjust="spacingAndGlyphs" stroke="#231f20" stroke-width="0.06">40</text>
<line x1="175.75" y1="157" x2="178.75" y2="157" stroke="#231f20" stroke-width="1.2" stroke-linecap="butt"/>
<text x="173.5" y="160.24" font-size="9" text-anchor="end" fill="#231f20" textLength="8.01" lengthAdjust="spacingAndGlyphs" stroke="#231f20" stroke-width="0.06">60</text>
<line x1="178.15" y1="223.25" x2="245.5" y2="223.25" stroke="#231f20" stroke-width="1.2" stroke-linecap="butt"/>
<rect x="187" y="215.5" width="13.5" height="7.3" fill="#8e9cc9" stroke="none" stroke-width="0" fill-opacity="1"/>
<rect x="205" y="181.25" width="13.75" height="41.55" fill="#e98a7f" stroke="none" stroke-width="0" fill-opacity="1"/>
<rect x="223" y="172.5" width="14" height="50.3" fill="#abd395" stroke="none" stroke-width="0" fill-opacity="1"/>
<circle cx="191" cy="212.5" r="1.2" fill="#1d3a78"/>
<circle cx="196.5" cy="212.5" r="1.2" fill="#1d3a78"/>
<circle cx="190.5" cy="218" r="1.2" fill="#1d3a78"/>
<circle cx="196" cy="217" r="1.2" fill="#1d3a78"/>
<line x1="193.75" y1="212.5" x2="193.75" y2="219" stroke="#1d3a78" stroke-width="0.8" stroke-linecap="butt"/>
<line x1="191.25" y1="212.5" x2="196.25" y2="212.5" stroke="#1d3a78" stroke-width="0.8" stroke-linecap="butt"/>
<line x1="191.25" y1="219" x2="196.25" y2="219" stroke="#1d3a78" stroke-width="0.8" stroke-linecap="butt"/>
<circle cx="211.9" cy="164.5" r="1.2" fill="#c8102e"/>
<circle cx="208.5" cy="188.5" r="1.2" fill="#c8102e"/>
<circle cx="211.9" cy="186.5" r="1.2" fill="#c8102e"/>
<circle cx="215" cy="189" r="1.2" fill="#c8102e"/>
<line x1="211.9" y1="169.5" x2="211.9" y2="193" stroke="#c8102e" stroke-width="0.8" stroke-linecap="butt"/>
<line x1="208.9" y1="169.5" x2="214.9" y2="169.5" stroke="#c8102e" stroke-width="0.8" stroke-linecap="butt"/>
<line x1="208.9" y1="193" x2="214.9" y2="193" stroke="#c8102e" stroke-width="0.8" stroke-linecap="butt"/>
<polygon points="230,163.22 228.8,165.58 231.2,165.58" fill="#3fa041" stroke="none" stroke-width="0" fill-opacity="1"/>
<polygon points="227.5,172.72 226.3,175.08 228.7,175.08" fill="#3fa041" stroke="none" stroke-width="0" fill-opacity="1"/>
<polygon points="232.5,172.72 231.3,175.08 233.7,175.08" fill="#3fa041" stroke="none" stroke-width="0" fill-opacity="1"/>
<polygon points="230,182.72 228.8,185.08 231.2,185.08" fill="#3fa041" stroke="none" stroke-width="0" fill-opacity="1"/>
<line x1="230" y1="163" x2="230" y2="182" stroke="#3fa041" stroke-width="0.8" stroke-linecap="butt"/>
<line x1="227" y1="163" x2="233" y2="163" stroke="#3fa041" stroke-width="0.8" stroke-linecap="butt"/>
<line x1="227" y1="182" x2="233" y2="182" stroke="#3fa041" stroke-width="0.8" stroke-linecap="butt"/>
<polyline points="193.25,157 193.25,152.5 212,152.5 212,157" fill="none" stroke="#231f20" stroke-width="1.0" />
<path d="M202.62,146.8L202.62,149.2M203.66,147.4L201.59,148.6M203.66,148.6L201.59,147.4" stroke="#231f20" stroke-width="0.65" fill="none" stroke-linecap="round"/>
<circle cx="202.62" cy="148" r="0.85" fill="#231f20"/>
<polyline points="193.25,138.25 193.25,133.75 230.5,133.75 230.5,138.25" fill="none" stroke="#231f20" stroke-width="1.0" />
<path d="M210.22,128.3L210.22,130.7M211.26,128.9L209.19,130.1M211.26,130.1L209.19,128.9" stroke="#231f20" stroke-width="0.65" fill="none" stroke-linecap="round"/>
<circle cx="210.22" cy="129.5" r="0.85" fill="#231f20"/>
<path d="M213.53,128.3L213.53,130.7M214.56,128.9L212.49,130.1M214.56,130.1L212.49,128.9" stroke="#231f20" stroke-width="0.65" fill="none" stroke-linecap="round"/>
<circle cx="213.53" cy="129.5" r="0.85" fill="#231f20"/>
<text transform="translate(143,188.12) rotate(-90)" x="0" y="3.35" font-size="9.3" text-anchor="middle" fill="#231f20" textLength="53.75" lengthAdjust="spacingAndGlyphs" stroke="#231f20" stroke-width="0.06">% of IFN-γ<tspan baseline-shift="super" font-size="5.2">+</tspan>TNF<tspan baseline-shift="super" font-size="5.2">+</tspan></text>
<text transform="translate(155.5,189.38) rotate(-90)" x="0" y="3.35" font-size="9.3" text-anchor="middle" fill="#231f20" textLength="38.75" lengthAdjust="spacingAndGlyphs" stroke="#231f20" stroke-width="0.06">in CD8 T cell</text>
<line x1="300" y1="155.5" x2="300" y2="223.85" stroke="#231f20" stroke-width="1.2" stroke-linecap="butt"/>
<line x1="297" y1="223.25" x2="300" y2="223.25" stroke="#231f20" stroke-width="1.2" stroke-linecap="butt"/>
<text x="294.7" y="226.49" font-size="9" text-anchor="end" fill="#231f20" textLength="4" lengthAdjust="spacingAndGlyphs" stroke="#231f20" stroke-width="0.06">0</text>
<line x1="297" y1="207" x2="300" y2="207" stroke="#231f20" stroke-width="1.2" stroke-linecap="butt"/>
<text x="294.7" y="210.24" font-size="9" text-anchor="end" fill="#231f20" textLength="8.01" lengthAdjust="spacingAndGlyphs" stroke="#231f20" stroke-width="0.06">20</text>
<line x1="297" y1="190.5" x2="300" y2="190.5" stroke="#231f20" stroke-width="1.2" stroke-linecap="butt"/>
<text x="294.7" y="193.74" font-size="9" text-anchor="end" fill="#231f20" textLength="8.01" lengthAdjust="spacingAndGlyphs" stroke="#231f20" stroke-width="0.06">40</text>
<line x1="297" y1="173.75" x2="300" y2="173.75" stroke="#231f20" stroke-width="1.2" stroke-linecap="butt"/>
<text x="294.7" y="176.99" font-size="9" text-anchor="end" fill="#231f20" textLength="8.01" lengthAdjust="spacingAndGlyphs" stroke="#231f20" stroke-width="0.06">60</text>
<line x1="297" y1="157" x2="300" y2="157" stroke="#231f20" stroke-width="1.2" stroke-linecap="butt"/>
<text x="294.7" y="160.24" font-size="9" text-anchor="end" fill="#231f20" textLength="8.01" lengthAdjust="spacingAndGlyphs" stroke="#231f20" stroke-width="0.06">80</text>
<line x1="299.4" y1="223.25" x2="366.25" y2="223.25" stroke="#231f20" stroke-width="1.2" stroke-linecap="butt"/>
<rect x="307.5" y="222.2" width="15" height="0.6" fill="#8e9cc9" stroke="none" stroke-width="0" fill-opacity="1"/>
<circle cx="309" cy="222.3" r="1.2" fill="#1d3a78"/>
<circle cx="312.5" cy="222.3" r="1.2" fill="#1d3a78"/>
<circle cx="316" cy="222.3" r="1.2" fill="#1d3a78"/>
<circle cx="319.5" cy="222.3" r="1.2" fill="#1d3a78"/>
<line x1="307.5" y1="222.3" x2="322.5" y2="222.3" stroke="#1d3a78" stroke-width="0.8" stroke-linecap="butt"/>
<rect x="326.25" y="195" width="13.75" height="27.8" fill="#e98a7f" stroke="none" stroke-width="0" fill-opacity="1"/>
<rect x="345" y="170.75" width="13.75" height="52.05" fill="#abd395" stroke="none" stroke-width="0" fill-opacity="1"/>
<circle cx="333" cy="185.5" r="1.2" fill="#c8102e"/>
<circle cx="330" cy="195" r="1.2" fill="#c8102e"/>
<circle cx="333" cy="193" r="1.2" fill="#c8102e"/>
<circle cx="336" cy="195.5" r="1.2" fill="#c8102e"/>
<line x1="333" y1="188.5" x2="333" y2="200" stroke="#c8102e" stroke-width="0.8" stroke-linecap="butt"/>
<line x1="330" y1="188.5" x2="336" y2="188.5" stroke="#c8102e" stroke-width="0.8" stroke-linecap="butt"/>
<line x1="330" y1="200" x2="336" y2="200" stroke="#c8102e" stroke-width="0.8" stroke-linecap="butt"/>
<polygon points="346.5,162.77 345.35,165.03 347.65,165.03" fill="#3fa041" stroke="none" stroke-width="0" fill-opacity="1"/>
<polygon points="352,165.77 350.85,168.03 353.15,168.03" fill="#3fa041" stroke="none" stroke-width="0" fill-opacity="1"/>
<polygon points="357,163.77 355.85,166.03 358.15,166.03" fill="#3fa041" stroke="none" stroke-width="0" fill-opacity="1"/>
<polygon points="352,181.77 350.85,184.03 353.15,184.03" fill="#3fa041" stroke="none" stroke-width="0" fill-opacity="1"/>
<line x1="352" y1="161.5" x2="352" y2="178" stroke="#3fa041" stroke-width="0.8" stroke-linecap="butt"/>
<line x1="349" y1="161.5" x2="355" y2="161.5" stroke="#3fa041" stroke-width="0.8" stroke-linecap="butt"/>
<line x1="349" y1="178" x2="355" y2="178" stroke="#3fa041" stroke-width="0.8" stroke-linecap="butt"/>
<polyline points="314.5,156.25 314.5,151.25 332,151.25 332,156.25" fill="none" stroke="#231f20" stroke-width="1.0" />
<path d="M321.6,145.8L321.6,148.2M322.64,146.4L320.56,147.6M322.64,147.6L320.56,146.4" stroke="#231f20" stroke-width="0.65" fill="none" stroke-linecap="round"/>
<circle cx="321.6" cy="147" r="0.85" fill="#231f20"/>
<path d="M324.9,145.8L324.9,148.2M325.94,146.4L323.86,147.6M325.94,147.6L323.86,146.4" stroke="#231f20" stroke-width="0.65" fill="none" stroke-linecap="round"/>
<circle cx="324.9" cy="147" r="0.85" fill="#231f20"/>
<polyline points="334.5,156.25 334.5,151.25 352,151.25 352,156.25" fill="none" stroke="#231f20" stroke-width="1.0" />
<path d="M343.25,145.8L343.25,148.2M344.29,146.4L342.21,147.6M344.29,147.6L342.21,146.4" stroke="#231f20" stroke-width="0.65" fill="none" stroke-linecap="round"/>
<circle cx="343.25" cy="147" r="0.85" fill="#231f20"/>
<polyline points="314.5,137.5 314.5,132.5 352,132.5 352,137.5" fill="none" stroke="#231f20" stroke-width="1.0" />
<path d="M331.6,126.8L331.6,129.2M332.64,127.4L330.56,128.6M332.64,128.6L330.56,127.4" stroke="#231f20" stroke-width="0.65" fill="none" stroke-linecap="round"/>
<circle cx="331.6" cy="128" r="0.85" fill="#231f20"/>
<path d="M334.9,126.8L334.9,129.2M335.94,127.4L333.86,128.6M335.94,128.6L333.86,127.4" stroke="#231f20" stroke-width="0.65" fill="none" stroke-linecap="round"/>
<circle cx="334.9" cy="128" r="0.85" fill="#231f20"/>
<text transform="translate(266.25,189.38) rotate(-90)" x="0" y="3.35" font-size="9.3" text-anchor="middle" fill="#231f20" textLength="41.25" lengthAdjust="spacingAndGlyphs" stroke="#231f20" stroke-width="0.06">% of GzmB<tspan baseline-shift="super" font-size="5.2">+</tspan></text>
<text transform="translate(277.5,191) rotate(-90)" x="0" y="3.35" font-size="9.3" text-anchor="middle" fill="#231f20" textLength="38" lengthAdjust="spacingAndGlyphs" stroke="#231f20" stroke-width="0.06">in CD8 T cell</text>
<text x="7" y="253" font-size="10.8" font-weight="bold" fill="#000" stroke="#000" stroke-width="0.3">D</text>
<circle cx="52.9" cy="247.3" r="2.2" fill="#1c3462"/>
<text x="57.7" y="250.47" font-size="8.8" text-anchor="start" fill="#231f20" textLength="24" lengthAdjust="spacingAndGlyphs" stroke="#231f20" stroke-width="0.06">Vehicle</text>
<circle cx="52.9" cy="258.3" r="2.2" fill="#b5122b"/>
<text x="57.7" y="261.47" font-size="8.8" text-anchor="start" fill="#231f20" textLength="8.8" lengthAdjust="spacingAndGlyphs" stroke="#231f20" stroke-width="0.06">DT</text>
<circle cx="52.9" cy="268.8" r="2.2" fill="#3d8c40"/>
<text x="57.7" y="271.97" font-size="8.8" text-anchor="start" fill="#231f20" textLength="24" lengthAdjust="spacingAndGlyphs" stroke="#231f20" stroke-width="0.06">NL-201</text>
<line x1="40.4" y1="275.6" x2="40.4" y2="367.1" stroke="#231f20" stroke-width="1.2" stroke-linecap="butt"/>
<line x1="37.4" y1="285" x2="40.4" y2="285" stroke="#231f20" stroke-width="1.2" stroke-linecap="butt"/>
<text x="35" y="288.24" font-size="9" text-anchor="end" fill="#231f20" textLength="4" lengthAdjust="spacingAndGlyphs" stroke="#231f20" stroke-width="0.06">1</text>
<line x1="37.4" y1="301.6" x2="40.4" y2="301.6" stroke="#231f20" stroke-width="1.2" stroke-linecap="butt"/>
<text x="35" y="304.84" font-size="9" text-anchor="end" fill="#231f20" textLength="4" lengthAdjust="spacingAndGlyphs" stroke="#231f20" stroke-width="0.06">0</text>
<line x1="37.4" y1="318.2" x2="40.4" y2="318.2" stroke="#231f20" stroke-width="1.2" stroke-linecap="butt"/>
<text x="35" y="321.44" font-size="9" text-anchor="end" fill="#231f20" textLength="8.21" lengthAdjust="spacingAndGlyphs" stroke="#231f20" stroke-width="0.06">−1</text>
<line x1="37.4" y1="334.6" x2="40.4" y2="334.6" stroke="#231f20" stroke-width="1.2" stroke-linecap="butt"/>
<text x="35" y="337.84" font-size="9" text-anchor="end" fill="#231f20" textLength="8.21" lengthAdjust="spacingAndGlyphs" stroke="#231f20" stroke-width="0.06">−2</text>
<line x1="37.4" y1="350.8" x2="40.4" y2="350.8" stroke="#231f20" stroke-width="1.2" stroke-linecap="butt"/>
<text x="35" y="354.04" font-size="9" text-anchor="end" fill="#231f20" textLength="8.21" lengthAdjust="spacingAndGlyphs" stroke="#231f20" stroke-width="0.06">−3</text>
<line x1="39.8" y1="366.5" x2="131.4" y2="366.5" stroke="#231f20" stroke-width="1.2" stroke-linecap="butt"/>
<line x1="49.6" y1="366.5" x2="49.6" y2="368.8" stroke="#231f20" stroke-width="0.9" stroke-linecap="butt"/>
<text x="49.6" y="379.8" font-size="9" text-anchor="middle" fill="#231f20" textLength="4.1" lengthAdjust="spacingAndGlyphs" stroke="#231f20" stroke-width="0.06">2</text>
<line x1="66.9" y1="366.5" x2="66.9" y2="368.8" stroke="#231f20" stroke-width="0.9" stroke-linecap="butt"/>
<text x="66.9" y="379.8" font-size="9" text-anchor="middle" fill="#231f20" textLength="4.1" lengthAdjust="spacingAndGlyphs" stroke="#231f20" stroke-width="0.06">4</text>
<line x1="84.2" y1="366.5" x2="84.2" y2="368.8" stroke="#231f20" stroke-width="0.9" stroke-linecap="butt"/>
<text x="84.2" y="379.8" font-size="9" text-anchor="middle" fill="#231f20" textLength="4.1" lengthAdjust="spacingAndGlyphs" stroke="#231f20" stroke-width="0.06">6</text>
<line x1="101.5" y1="366.5" x2="101.5" y2="368.8" stroke="#231f20" stroke-width="0.9" stroke-linecap="butt"/>
<text x="101.5" y="379.8" font-size="9" text-anchor="middle" fill="#231f20" textLength="4.1" lengthAdjust="spacingAndGlyphs" stroke="#231f20" stroke-width="0.06">8</text>
<line x1="118.8" y1="366.5" x2="118.8" y2="368.8" stroke="#231f20" stroke-width="0.9" stroke-linecap="butt"/>
<text x="118.8" y="379.8" font-size="9" text-anchor="middle" fill="#231f20" textLength="8.21" lengthAdjust="spacingAndGlyphs" stroke="#231f20" stroke-width="0.06">10</text>
<text x="60.5" y="392.91" font-size="10.3" text-anchor="start" fill="#231f20" textLength="51.5" lengthAdjust="spacingAndGlyphs" stroke="#231f20" stroke-width="0.06">Weeks post-SCT</text>
<text transform="translate(18.3,321.25) rotate(-90)" x="0" y="3.46" font-size="9.6" text-anchor="middle" fill="#231f20" textLength="37.5" lengthAdjust="spacingAndGlyphs" stroke="#231f20" stroke-width="0.06">log M-band</text>
<polygon points="49.6,346.2 84.2,314.5 118.8,282.7 118.8,308 84.2,327 49.6,350.8" fill="#8591cc" stroke="none" stroke-width="0" fill-opacity="0.52"/>
<polygon points="49.6,347 84.2,333.5 118.8,317.3 118.8,339.5 84.2,346 49.6,352" fill="#b5dd9c" stroke="none" stroke-width="0" fill-opacity="0.75"/>
<polygon points="49.6,347 84.2,339 118.8,333.5 118.8,358.8 84.2,353.5 49.6,352.5" fill="#e8907e" stroke="none" stroke-width="0" fill-opacity="0.68"/>
<line x1="49.6" y1="348.5" x2="118.8" y2="293" stroke="#1d3a78" stroke-width="1.1" stroke-linecap="butt"/>
<line x1="49.6" y1="349" x2="118.8" y2="328.8" stroke="#4cae4c" stroke-width="1.1" stroke-linecap="butt"/>
<line x1="49.6" y1="349.6" x2="118.8" y2="345.7" stroke="#c8102e" stroke-width="1.1" stroke-linecap="butt"/>
<line x1="40.4" y1="322.3" x2="131.4" y2="322.3" stroke="#231f20" stroke-width="0.8" stroke-linecap="butt" stroke-dasharray="1.2,1.4"/>
<circle cx="46.4" cy="342" r="1.85" fill="#c8102e"/>
<circle cx="46.4" cy="345" r="1.85" fill="#c8102e"/>
<circle cx="46.4" cy="348" r="1.85" fill="#c8102e"/>
<circle cx="46.4" cy="352" r="1.85" fill="#c8102e"/>
<circle cx="46.4" cy="356" r="1.85" fill="#c8102e"/>
<circle cx="46.4" cy="360" r="1.85" fill="#c8102e"/>
<circle cx="46.4" cy="362" r="1.85" fill="#c8102e"/>
<circle cx="64.3" cy="339" r="1.85" fill="#c8102e"/>
<circle cx="64.3" cy="342" r="1.85" fill="#c8102e"/>
<circle cx="64.3" cy="345" r="1.85" fill="#c8102e"/>
<circle cx="64.3" cy="349" r="1.85" fill="#c8102e"/>
<circle cx="81.4" cy="339" r="1.85" fill="#c8102e"/>
<circle cx="81.4" cy="342" r="1.85" fill="#c8102e"/>
<circle cx="81.4" cy="346" r="1.85" fill="#c8102e"/>
<circle cx="81.4" cy="350" r="1.85" fill="#c8102e"/>
<circle cx="81.4" cy="353" r="1.85" fill="#c8102e"/>
<circle cx="81.4" cy="356.4" r="1.85" fill="#c8102e"/>
<circle cx="98.9" cy="345" r="1.85" fill="#c8102e"/>
<circle cx="98.9" cy="347.9" r="1.85" fill="#c8102e"/>
<circle cx="98.9" cy="352" r="1.85" fill="#c8102e"/>
<circle cx="98.9" cy="355" r="1.85" fill="#c8102e"/>
<circle cx="116.9" cy="340" r="1.85" fill="#c8102e"/>
<circle cx="116.9" cy="343" r="1.85" fill="#c8102e"/>
<circle cx="116.9" cy="346.4" r="1.85" fill="#c8102e"/>
<circle cx="49.3" cy="346" r="1.85" fill="#4cae4c"/>
<circle cx="49.3" cy="350" r="1.85" fill="#4cae4c"/>
<circle cx="49.3" cy="353" r="1.85" fill="#4cae4c"/>
<circle cx="49.3" cy="356" r="1.85" fill="#4cae4c"/>
<circle cx="49.3" cy="359" r="1.85" fill="#4cae4c"/>
<circle cx="66.4" cy="335" r="1.85" fill="#4cae4c"/>
<circle cx="66.4" cy="338" r="1.85" fill="#4cae4c"/>
<circle cx="66.4" cy="341" r="1.85" fill="#4cae4c"/>
<circle cx="66.4" cy="346" r="1.85" fill="#4cae4c"/>
<circle cx="66.4" cy="350" r="1.85" fill="#4cae4c"/>
<circle cx="66.4" cy="355" r="1.85" fill="#4cae4c"/>
<circle cx="83.6" cy="323.6" r="1.85" fill="#4cae4c"/>
<circle cx="83.6" cy="331.4" r="1.85" fill="#4cae4c"/>
<circle cx="83.6" cy="343.6" r="1.85" fill="#4cae4c"/>
<circle cx="83.6" cy="346" r="1.85" fill="#4cae4c"/>
<circle cx="83.6" cy="349" r="1.85" fill="#4cae4c"/>
<circle cx="83.6" cy="357" r="1.85" fill="#4cae4c"/>
<circle cx="101.4" cy="300" r="1.85" fill="#4cae4c"/>
<circle cx="101.4" cy="332.1" r="1.85" fill="#4cae4c"/>
<circle cx="101.4" cy="340" r="1.85" fill="#4cae4c"/>
<circle cx="101.4" cy="342" r="1.85" fill="#4cae4c"/>
<circle cx="101.4" cy="346.4" r="1.85" fill="#4cae4c"/>
<circle cx="118.9" cy="280.4" r="1.85" fill="#4cae4c"/>
<circle cx="118.9" cy="289.3" r="1.85" fill="#4cae4c"/>
<circle cx="118.9" cy="319.3" r="1.85" fill="#4cae4c"/>
<circle cx="118.9" cy="336.4" r="1.85" fill="#4cae4c"/>
<circle cx="118.9" cy="340.7" r="1.85" fill="#4cae4c"/>
<circle cx="118.9" cy="343" r="1.85" fill="#4cae4c"/>
<circle cx="51.4" cy="342" r="1.85" fill="#1d3f80"/>
<circle cx="51.4" cy="346" r="1.85" fill="#1d3f80"/>
<circle cx="51.4" cy="349" r="1.85" fill="#1d3f80"/>
<circle cx="51.4" cy="352" r="1.85" fill="#1d3f80"/>
<circle cx="51.4" cy="355" r="1.85" fill="#1d3f80"/>
<circle cx="51.4" cy="358" r="1.85" fill="#1d3f80"/>
<circle cx="69.3" cy="317.9" r="1.85" fill="#1d3f80"/>
<circle cx="69.3" cy="320.7" r="1.85" fill="#1d3f80"/>
<circle cx="69.3" cy="325.7" r="1.85" fill="#1d3f80"/>
<circle cx="69.3" cy="335" r="1.85" fill="#1d3f80"/>
<circle cx="69.3" cy="339.3" r="1.85" fill="#1d3f80"/>
<circle cx="69.3" cy="342" r="1.85" fill="#1d3f80"/>
<circle cx="69.3" cy="351.4" r="1.85" fill="#1d3f80"/>
<circle cx="86" cy="296.4" r="1.85" fill="#1d3f80"/>
<circle cx="86" cy="297.9" r="1.85" fill="#1d3f80"/>
<circle cx="86" cy="310" r="1.85" fill="#1d3f80"/>
<circle cx="86" cy="311.4" r="1.85" fill="#1d3f80"/>
<circle cx="86" cy="317.1" r="1.85" fill="#1d3f80"/>
<circle cx="86" cy="321.4" r="1.85" fill="#1d3f80"/>
<circle cx="86" cy="325.7" r="1.85" fill="#1d3f80"/>
<circle cx="86" cy="339.3" r="1.85" fill="#1d3f80"/>
<circle cx="86" cy="351.4" r="1.85" fill="#1d3f80"/>
<circle cx="104" cy="292.9" r="1.85" fill="#1d3f80"/>
<circle cx="104" cy="294.3" r="1.85" fill="#1d3f80"/>
<circle cx="104" cy="297.9" r="1.85" fill="#1d3f80"/>
<circle cx="104" cy="300" r="1.85" fill="#1d3f80"/>
<circle cx="104" cy="324.3" r="1.85" fill="#1d3f80"/>
<circle cx="104" cy="355" r="1.85" fill="#1d3f80"/>
<circle cx="104" cy="356.4" r="1.85" fill="#1d3f80"/>
<circle cx="121.4" cy="336.4" r="1.85" fill="#1d3f80"/>
<circle cx="121.4" cy="345" r="1.85" fill="#1d3f80"/>
<line x1="127.6" y1="291.4" x2="127.6" y2="320.7" stroke="#231f20" stroke-width="0.8" stroke-linecap="butt"/>
<line x1="127.6" y1="329.3" x2="127.6" y2="347.9" stroke="#231f20" stroke-width="0.8" stroke-linecap="butt"/>
<line x1="135.7" y1="291.4" x2="135.7" y2="347.9" stroke="#231f20" stroke-width="0.8" stroke-linecap="butt"/>
<path d="M131,306.45L131,308.85M132.04,307.05L129.96,308.25M132.04,308.25L129.96,307.05" stroke="#231f20" stroke-width="0.65" fill="none" stroke-linecap="round"/>
<circle cx="131" cy="307.65" r="0.85" fill="#231f20"/>
<path d="M131,309.75L131,312.15M132.04,310.35L129.96,311.55M132.04,311.55L129.96,310.35" stroke="#231f20" stroke-width="0.65" fill="none" stroke-linecap="round"/>
<circle cx="131" cy="310.95" r="0.85" fill="#231f20"/>
<path d="M131,337.4L131,339.8M132.04,338L129.96,339.2M132.04,339.2L129.96,338" stroke="#231f20" stroke-width="0.65" fill="none" stroke-linecap="round"/>
<circle cx="131" cy="338.6" r="0.85" fill="#231f20"/>
<path d="M139.6,313.15L139.6,315.55M140.64,313.75L138.56,314.95M140.64,314.95L138.56,313.75" stroke="#231f20" stroke-width="0.65" fill="none" stroke-linecap="round"/>
<circle cx="139.6" cy="314.35" r="0.85" fill="#231f20"/>
<path d="M139.6,316.45L139.6,318.85M140.64,317.05L138.56,318.25M140.64,318.25L138.56,317.05" stroke="#231f20" stroke-width="0.65" fill="none" stroke-linecap="round"/>
<circle cx="139.6" cy="317.65" r="0.85" fill="#231f20"/>
<path d="M139.6,319.75L139.6,322.15M140.64,320.35L138.56,321.55M140.64,321.55L138.56,320.35" stroke="#231f20" stroke-width="0.65" fill="none" stroke-linecap="round"/>
<circle cx="139.6" cy="320.95" r="0.85" fill="#231f20"/>
<path d="M139.6,323.05L139.6,325.45M140.64,323.65L138.56,324.85M140.64,324.85L138.56,323.65" stroke="#231f20" stroke-width="0.65" fill="none" stroke-linecap="round"/>
<circle cx="139.6" cy="324.25" r="0.85" fill="#231f20"/>
<line x1="190.2" y1="247" x2="200.9" y2="247" stroke="#1d3f80" stroke-width="1.1" stroke-linecap="butt"/>
<line x1="195.5" y1="246" x2="195.5" y2="248" stroke="#1d3f80" stroke-width="0.8" stroke-linecap="butt"/>
<text x="203.7" y="250.1" font-size="8.6" text-anchor="start" fill="#231f20" textLength="23.2" lengthAdjust="spacingAndGlyphs" stroke="#231f20" stroke-width="0.06">Vehicle</text>
<line x1="190.2" y1="257.9" x2="200.9" y2="257.9" stroke="#c8102e" stroke-width="1.1" stroke-linecap="butt"/>
<line x1="195.5" y1="256.9" x2="195.5" y2="258.9" stroke="#c8102e" stroke-width="0.8" stroke-linecap="butt"/>
<text x="203.7" y="261" font-size="8.6" text-anchor="start" fill="#231f20" textLength="9" lengthAdjust="spacingAndGlyphs" stroke="#231f20" stroke-width="0.06">DT</text>
<line x1="190.2" y1="268.8" x2="200.9" y2="268.8" stroke="#4cae4c" stroke-width="1.1" stroke-linecap="butt"/>
<line x1="195.5" y1="267.8" x2="195.5" y2="269.8" stroke="#4cae4c" stroke-width="0.8" stroke-linecap="butt"/>
<text x="203.7" y="271.9" font-size="8.6" text-anchor="start" fill="#231f20" textLength="23.7" lengthAdjust="spacingAndGlyphs" stroke="#231f20" stroke-width="0.06">NL-201</text>
<line x1="234" y1="244.6" x2="234" y2="255.3" stroke="#231f20" stroke-width="0.9" stroke-linecap="butt"/>
<line x1="234" y1="259.6" x2="234" y2="270.9" stroke="#231f20" stroke-width="0.9" stroke-linecap="butt"/>
<line x1="253.9" y1="244.6" x2="253.9" y2="271.2" stroke="#231f20" stroke-width="0.9" stroke-linecap="butt"/>
<path d="M239.1,247.5L239.1,249.9M240.14,248.1L238.06,249.3M240.14,249.3L238.06,248.1" stroke="#231f20" stroke-width="0.65" fill="none" stroke-linecap="round"/>
<circle cx="239.1" cy="248.7" r="0.85" fill="#231f20"/>
<path d="M242.4,247.5L242.4,249.9M243.44,248.1L241.36,249.3M243.44,249.3L241.36,248.1" stroke="#231f20" stroke-width="0.65" fill="none" stroke-linecap="round"/>
<circle cx="242.4" cy="248.7" r="0.85" fill="#231f20"/>
<path d="M245.7,247.5L245.7,249.9M246.74,248.1L244.66,249.3M246.74,249.3L244.66,248.1" stroke="#231f20" stroke-width="0.65" fill="none" stroke-linecap="round"/>
<circle cx="245.7" cy="248.7" r="0.85" fill="#231f20"/>
<text x="236.9" y="267.9" font-size="8.6" text-anchor="start" fill="#231f20" textLength="10.8" lengthAdjust="spacingAndGlyphs" stroke="#231f20" stroke-width="0.06">NS</text>
<path d="M258.55,254.6L258.55,257M259.59,255.2L257.51,256.4M259.59,256.4L257.51,255.2" stroke="#231f20" stroke-width="0.65" fill="none" stroke-linecap="round"/>
<circle cx="258.55" cy="255.8" r="0.85" fill="#231f20"/>
<path d="M261.85,254.6L261.85,257M262.89,255.2L260.81,256.4M262.89,256.4L260.81,255.2" stroke="#231f20" stroke-width="0.65" fill="none" stroke-linecap="round"/>
<circle cx="261.85" cy="255.8" r="0.85" fill="#231f20"/>
<line x1="190.4" y1="295.5" x2="190.4" y2="367.1" stroke="#231f20" stroke-width="1.2" stroke-linecap="butt"/>
<line x1="187.4" y1="297.2" x2="190.4" y2="297.2" stroke="#231f20" stroke-width="1.2" stroke-linecap="butt"/>
<text x="184.2" y="300.44" font-size="9" text-anchor="end" fill="#231f20" textLength="12.01" lengthAdjust="spacingAndGlyphs" stroke="#231f20" stroke-width="0.06">100</text>
<line x1="187.4" y1="311.5" x2="190.4" y2="311.5" stroke="#231f20" stroke-width="1.2" stroke-linecap="butt"/>
<text x="184.2" y="314.74" font-size="9" text-anchor="end" fill="#231f20" textLength="8.01" lengthAdjust="spacingAndGlyphs" stroke="#231f20" stroke-width="0.06">80</text>
<line x1="187.4" y1="325.4" x2="190.4" y2="325.4" stroke="#231f20" stroke-width="1.2" stroke-linecap="butt"/>
<text x="184.2" y="328.64" font-size="9" text-anchor="end" fill="#231f20" textLength="8.01" lengthAdjust="spacingAndGlyphs" stroke="#231f20" stroke-width="0.06">60</text>
<line x1="187.4" y1="339.2" x2="190.4" y2="339.2" stroke="#231f20" stroke-width="1.2" stroke-linecap="butt"/>
<text x="184.2" y="342.44" font-size="9" text-anchor="end" fill="#231f20" textLength="8.01" lengthAdjust="spacingAndGlyphs" stroke="#231f20" stroke-width="0.06">40</text>
<line x1="187.4" y1="353.1" x2="190.4" y2="353.1" stroke="#231f20" stroke-width="1.2" stroke-linecap="butt"/>
<text x="184.2" y="356.34" font-size="9" text-anchor="end" fill="#231f20" textLength="8.01" lengthAdjust="spacingAndGlyphs" stroke="#231f20" stroke-width="0.06">20</text>
<line x1="187.4" y1="366.5" x2="190.4" y2="366.5" stroke="#231f20" stroke-width="1.2" stroke-linecap="butt"/>
<text x="184.2" y="369.74" font-size="9" text-anchor="end" fill="#231f20" textLength="4" lengthAdjust="spacingAndGlyphs" stroke="#231f20" stroke-width="0.06">0</text>
<line x1="189.8" y1="366.5" x2="261.5" y2="366.5" stroke="#231f20" stroke-width="1.2" stroke-linecap="butt"/>
<line x1="190.4" y1="366.5" x2="190.4" y2="368.8" stroke="#231f20" stroke-width="0.9" stroke-linecap="butt"/>
<text x="190.4" y="380.3" font-size="9" text-anchor="middle" fill="#231f20" textLength="4.1" lengthAdjust="spacingAndGlyphs" stroke="#231f20" stroke-width="0.06">0</text>
<line x1="204.42" y1="366.5" x2="204.42" y2="368.8" stroke="#231f20" stroke-width="0.9" stroke-linecap="butt"/>
<text x="204.42" y="380.3" font-size="9" text-anchor="middle" fill="#231f20" textLength="8.21" lengthAdjust="spacingAndGlyphs" stroke="#231f20" stroke-width="0.06">20</text>
<line x1="218.44" y1="366.5" x2="218.44" y2="368.8" stroke="#231f20" stroke-width="0.9" stroke-linecap="butt"/>
<text x="218.44" y="380.3" font-size="9" text-anchor="middle" fill="#231f20" textLength="8.21" lengthAdjust="spacingAndGlyphs" stroke="#231f20" stroke-width="0.06">40</text>
<line x1="232.46" y1="366.5" x2="232.46" y2="368.8" stroke="#231f20" stroke-width="0.9" stroke-linecap="butt"/>
<text x="232.46" y="380.3" font-size="9" text-anchor="middle" fill="#231f20" textLength="8.21" lengthAdjust="spacingAndGlyphs" stroke="#231f20" stroke-width="0.06">60</text>
<line x1="246.48" y1="366.5" x2="246.48" y2="368.8" stroke="#231f20" stroke-width="0.9" stroke-linecap="butt"/>
<text x="246.48" y="380.3" font-size="9" text-anchor="middle" fill="#231f20" textLength="8.21" lengthAdjust="spacingAndGlyphs" stroke="#231f20" stroke-width="0.06">80</text>
<line x1="260.5" y1="366.5" x2="260.5" y2="368.8" stroke="#231f20" stroke-width="0.9" stroke-linecap="butt"/>
<text x="260.5" y="380.3" font-size="9" text-anchor="middle" fill="#231f20" textLength="12.31" lengthAdjust="spacingAndGlyphs" stroke="#231f20" stroke-width="0.06">100</text>
<text x="205.5" y="392.91" font-size="10.3" text-anchor="start" fill="#231f20" textLength="43" lengthAdjust="spacingAndGlyphs" stroke="#231f20" stroke-width="0.06">Days after SCT</text>
<text transform="translate(162.9,331.05) rotate(-90)" x="0" y="3.46" font-size="9.6" text-anchor="middle" fill="#231f20" textLength="40.9" lengthAdjust="spacingAndGlyphs" stroke="#231f20" stroke-width="0.06">Survival (%)</text>
<polyline points="190.4,297.2 261.5,297.2" fill="none" stroke="#c8102e" stroke-width="1.1" />
<polyline points="236.8,297.2 236.8,302.3 244.2,302.3 244.2,308.5 245.5,308.5 245.5,313.8 248.8,313.8 248.8,318.8 261.5,318.8" fill="none" stroke="#4cae4c" stroke-width="1.1" />
<polyline points="226.8,297.2 226.8,305.1 229.9,305.1 229.9,313.1 233,313.1 233,320.8 234.5,320.8 234.5,328.5 235.5,328.5 235.5,335.8 237.3,335.8 237.3,351.2 261.5,351.2" fill="none" stroke="#1d3f80" stroke-width="1.1" />
<text x="283.2" y="253" font-size="10.8" font-weight="bold" fill="#000" stroke="#000" stroke-width="0.3">E</text>
<rect x="323.45" y="244.75" width="3.7" height="3.7" fill="#5a2a7c" stroke="none" stroke-width="0" fill-opacity="1"/>
<text x="330.5" y="249.7" font-size="8.6" text-anchor="start" fill="#231f20" textLength="44.2" lengthAdjust="spacingAndGlyphs" stroke="#231f20" stroke-width="0.06">Naive control</text>
<circle cx="325.3" cy="257.9" r="2.1" fill="#c8102e"/>
<text x="330.5" y="261" font-size="8.6" text-anchor="start" fill="#231f20" textLength="36.3" lengthAdjust="spacingAndGlyphs" stroke="#231f20" stroke-width="0.06">DT treated</text>
<polygon points="325.3,266.37 323.15,270.44 327.45,270.44" fill="#3da53d" stroke="none" stroke-width="0" fill-opacity="1"/>
<text x="330.5" y="271.5" font-size="8.6" text-anchor="start" fill="#231f20" textLength="50.8" lengthAdjust="spacingAndGlyphs" stroke="#231f20" stroke-width="0.06">NL-201 treated</text>
<line x1="327.4" y1="295.5" x2="327.4" y2="367.7" stroke="#231f20" stroke-width="1.2" stroke-linecap="butt"/>
<line x1="324.4" y1="296.6" x2="327.4" y2="296.6" stroke="#231f20" stroke-width="1.2" stroke-linecap="butt"/>
<text x="321.8" y="299.84" font-size="9" text-anchor="end" fill="#231f20" textLength="12.26" lengthAdjust="spacingAndGlyphs" stroke="#231f20" stroke-width="0.06">0.5</text>
<line x1="324.4" y1="310.8" x2="327.4" y2="310.8" stroke="#231f20" stroke-width="1.2" stroke-linecap="butt"/>
<text x="321.8" y="314.04" font-size="9" text-anchor="end" fill="#231f20" textLength="12.26" lengthAdjust="spacingAndGlyphs" stroke="#231f20" stroke-width="0.06">0.0</text>
<line x1="324.4" y1="325" x2="327.4" y2="325" stroke="#231f20" stroke-width="1.2" stroke-linecap="butt"/>
<text x="321.8" y="328.24" font-size="9" text-anchor="end" fill="#231f20" textLength="17.41" lengthAdjust="spacingAndGlyphs" stroke="#231f20" stroke-width="0.06">−0.5</text>
<line x1="324.4" y1="339" x2="327.4" y2="339" stroke="#231f20" stroke-width="1.2" stroke-linecap="butt"/>
<text x="321.8" y="342.24" font-size="9" text-anchor="end" fill="#231f20" textLength="17.41" lengthAdjust="spacingAndGlyphs" stroke="#231f20" stroke-width="0.06">−1.0</text>
<line x1="324.4" y1="353.2" x2="327.4" y2="353.2" stroke="#231f20" stroke-width="1.2" stroke-linecap="butt"/>
<text x="321.8" y="356.44" font-size="9" text-anchor="end" fill="#231f20" textLength="17.41" lengthAdjust="spacingAndGlyphs" stroke="#231f20" stroke-width="0.06">−1.5</text>
<line x1="324.4" y1="367.1" x2="327.4" y2="367.1" stroke="#231f20" stroke-width="1.2" stroke-linecap="butt"/>
<text x="321.8" y="370.34" font-size="9" text-anchor="end" fill="#231f20" textLength="17.41" lengthAdjust="spacingAndGlyphs" stroke="#231f20" stroke-width="0.06">−2.0</text>
<line x1="326.8" y1="367.1" x2="377.4" y2="367.1" stroke="#231f20" stroke-width="1.2" stroke-linecap="butt"/>
<line x1="339.2" y1="367.1" x2="339.2" y2="369.3" stroke="#231f20" stroke-width="0.9" stroke-linecap="butt"/>
<line x1="364.2" y1="367.1" x2="364.2" y2="369.3" stroke="#231f20" stroke-width="0.9" stroke-linecap="butt"/>
<text transform="translate(339.6,376) rotate(-45)" x="0" y="2.99" font-size="8.3" text-anchor="end" fill="#231f20" textLength="21.5" lengthAdjust="spacingAndGlyphs" stroke="#231f20" stroke-width="0.06">+3wks</text>
<text transform="translate(364.4,376) rotate(-45)" x="0" y="2.99" font-size="8.3" text-anchor="end" fill="#231f20" textLength="21.5" lengthAdjust="spacingAndGlyphs" stroke="#231f20" stroke-width="0.06">+5wks</text>
<text transform="translate(296.3,326.95) rotate(-90)" x="0" y="3.46" font-size="9.6" text-anchor="middle" fill="#231f20" textLength="64.5" lengthAdjust="spacingAndGlyphs" stroke="#231f20" stroke-width="0.06">M-band (log G/A)</text>
<line x1="352.3" y1="297" x2="352.3" y2="367" stroke="#4f4f60" stroke-width="0.8" stroke-linecap="butt" stroke-dasharray="1,1.1"/>
<line x1="327.4" y1="326.3" x2="377.4" y2="326.3" stroke="#4f4f60" stroke-width="0.8" stroke-linecap="butt" stroke-dasharray="1,1.1"/>
<circle cx="330.5" cy="332.1" r="1.1" fill="#55297a"/>
<circle cx="334" cy="332.1" r="1.1" fill="#55297a"/>
<circle cx="332.1" cy="338.2" r="1.1" fill="#55297a"/>
<circle cx="332" cy="342.6" r="1.1" fill="#55297a"/>
<circle cx="338.4" cy="333.4" r="1.1" fill="#c8102e"/>
<circle cx="337.4" cy="338.7" r="1.1" fill="#c8102e"/>
<circle cx="341" cy="336.8" r="1.1" fill="#c8102e"/>
<polygon points="345.3,336.88 344.05,339.32 346.55,339.32" fill="#3fa041" stroke="none" stroke-width="0" fill-opacity="1"/>
<polygon points="347.1,338.98 345.85,341.43 348.35,341.43" fill="#3fa041" stroke="none" stroke-width="0" fill-opacity="1"/>
<polygon points="346,336.18 344.75,338.62 347.25,338.62" fill="#3fa041" stroke="none" stroke-width="0" fill-opacity="1"/>
<line x1="336.5" y1="337.3" x2="342.5" y2="337.3" stroke="#c8102e" stroke-width="0.8" stroke-linecap="butt"/>
<line x1="343.5" y1="338.8" x2="349.5" y2="338.8" stroke="#3fa041" stroke-width="0.8" stroke-linecap="butt"/>
<circle cx="357.1" cy="303.7" r="1.1" fill="#55297a"/>
<circle cx="355.2" cy="310.4" r="1.1" fill="#55297a"/>
<circle cx="359" cy="311.2" r="1.1" fill="#55297a"/>
<circle cx="356.8" cy="321" r="1.1" fill="#55297a"/>
<circle cx="364.7" cy="332.9" r="1.1" fill="#c8102e"/>
<circle cx="362.9" cy="338.2" r="1.1" fill="#c8102e"/>
<circle cx="364.7" cy="340.8" r="1.1" fill="#c8102e"/>
<circle cx="366.3" cy="338" r="1.1" fill="#c8102e"/>
<polygon points="370,336.88 368.75,339.32 371.25,339.32" fill="#3fa041" stroke="none" stroke-width="0" fill-opacity="1"/>
<polygon points="372,338.38 370.75,340.82 373.25,340.82" fill="#3fa041" stroke="none" stroke-width="0" fill-opacity="1"/>
<polygon points="371,336.18 369.75,338.62 372.25,338.62" fill="#3fa041" stroke="none" stroke-width="0" fill-opacity="1"/>
<polygon points="373.5,337.18 372.25,339.62 374.75,339.62" fill="#3fa041" stroke="none" stroke-width="0" fill-opacity="1"/>
<line x1="361" y1="338" x2="368" y2="338" stroke="#c8102e" stroke-width="0.8" stroke-linecap="butt"/>
<line x1="368.5" y1="338.8" x2="375" y2="338.8" stroke="#3fa041" stroke-width="0.8" stroke-linecap="butt"/>
<polyline points="357.3,286.2 357.3,282.3 375.8,282.3 375.8,286.2" fill="none" stroke="#231f20" stroke-width="1.0" />
<path d="M364.9,277.5L364.9,279.9M365.94,278.1L363.86,279.3M365.94,279.3L363.86,278.1" stroke="#231f20" stroke-width="0.65" fill="none" stroke-linecap="round"/>
<circle cx="364.9" cy="278.7" r="0.85" fill="#231f20"/>
<path d="M368.2,277.5L368.2,279.9M369.24,278.1L367.16,279.3M369.24,279.3L367.16,278.1" stroke="#231f20" stroke-width="0.65" fill="none" stroke-linecap="round"/>
<circle cx="368.2" cy="278.7" r="0.85" fill="#231f20"/>
<polyline points="357.3,297.4 357.3,293.8 365.8,293.8 365.8,297.4" fill="none" stroke="#231f20" stroke-width="1.0" />
<path d="M361.55,288.8L361.55,291.2M362.59,289.4L360.51,290.6M362.59,290.6L360.51,289.4" stroke="#231f20" stroke-width="0.65" fill="none" stroke-linecap="round"/>
<circle cx="361.55" cy="290" r="0.85" fill="#231f20"/>
<line x1="424.2" y1="246.6" x2="432.1" y2="246.6" stroke="#4a2370" stroke-width="1.1" stroke-linecap="butt"/>
<line x1="428.1" y1="245.6" x2="428.1" y2="247.6" stroke="#4a2370" stroke-width="0.8" stroke-linecap="butt"/>
<text x="434.7" y="249.7" font-size="8.6" text-anchor="start" fill="#231f20" textLength="44.8" lengthAdjust="spacingAndGlyphs" stroke="#231f20" stroke-width="0.06">Naive control</text>
<line x1="424.2" y1="257.9" x2="432.1" y2="257.9" stroke="#c8102e" stroke-width="1.1" stroke-linecap="butt"/>
<line x1="428.1" y1="256.9" x2="428.1" y2="258.9" stroke="#c8102e" stroke-width="0.8" stroke-linecap="butt"/>
<text x="434.7" y="261" font-size="8.6" text-anchor="start" fill="#231f20" textLength="35.3" lengthAdjust="spacingAndGlyphs" stroke="#231f20" stroke-width="0.06">DT treated</text>
<line x1="424.2" y1="268.4" x2="432.1" y2="268.4" stroke="#4cae4c" stroke-width="1.1" stroke-linecap="butt"/>
<line x1="428.1" y1="267.4" x2="428.1" y2="269.4" stroke="#4cae4c" stroke-width="0.8" stroke-linecap="butt"/>
<text x="434.7" y="271.5" font-size="8.6" text-anchor="start" fill="#231f20" textLength="50" lengthAdjust="spacingAndGlyphs" stroke="#231f20" stroke-width="0.06">NL-201 treated</text>
<polyline points="482.1,246.6 497.9,246.6 497.9,263.2 488.7,263.2" fill="none" stroke="#231f20" stroke-width="0.8" />
<line x1="488.7" y1="258.7" x2="488.7" y2="267.1" stroke="#231f20" stroke-width="0.8" stroke-linecap="butt"/>
<path d="M502.35,251.4L502.35,253.8M503.39,252L501.31,253.2M503.39,253.2L501.31,252" stroke="#231f20" stroke-width="0.65" fill="none" stroke-linecap="round"/>
<circle cx="502.35" cy="252.6" r="0.85" fill="#231f20"/>
<path d="M505.65,251.4L505.65,253.8M506.69,252L504.61,253.2M506.69,253.2L504.61,252" stroke="#231f20" stroke-width="0.65" fill="none" stroke-linecap="round"/>
<circle cx="505.65" cy="252.6" r="0.85" fill="#231f20"/>
<line x1="429.5" y1="298.2" x2="429.5" y2="367.7" stroke="#231f20" stroke-width="1.2" stroke-linecap="butt"/>
<line x1="426.5" y1="301.3" x2="429.5" y2="301.3" stroke="#231f20" stroke-width="1.2" stroke-linecap="butt"/>
<text x="424.2" y="304.54" font-size="9" text-anchor="end" fill="#231f20" textLength="12.01" lengthAdjust="spacingAndGlyphs" stroke="#231f20" stroke-width="0.06">100</text>
<line x1="426.5" y1="314.5" x2="429.5" y2="314.5" stroke="#231f20" stroke-width="1.2" stroke-linecap="butt"/>
<text x="424.2" y="317.74" font-size="9" text-anchor="end" fill="#231f20" textLength="8.01" lengthAdjust="spacingAndGlyphs" stroke="#231f20" stroke-width="0.06">80</text>
<line x1="426.5" y1="327.6" x2="429.5" y2="327.6" stroke="#231f20" stroke-width="1.2" stroke-linecap="butt"/>
<text x="424.2" y="330.84" font-size="9" text-anchor="end" fill="#231f20" textLength="8.01" lengthAdjust="spacingAndGlyphs" stroke="#231f20" stroke-width="0.06">60</text>
<line x1="426.5" y1="340.8" x2="429.5" y2="340.8" stroke="#231f20" stroke-width="1.2" stroke-linecap="butt"/>
<text x="424.2" y="344.04" font-size="9" text-anchor="end" fill="#231f20" textLength="8.01" lengthAdjust="spacingAndGlyphs" stroke="#231f20" stroke-width="0.06">40</text>
<line x1="426.5" y1="354" x2="429.5" y2="354" stroke="#231f20" stroke-width="1.2" stroke-linecap="butt"/>
<text x="424.2" y="357.24" font-size="9" text-anchor="end" fill="#231f20" textLength="8.01" lengthAdjust="spacingAndGlyphs" stroke="#231f20" stroke-width="0.06">20</text>
<line x1="426.5" y1="367.1" x2="429.5" y2="367.1" stroke="#231f20" stroke-width="1.2" stroke-linecap="butt"/>
<text x="424.2" y="370.34" font-size="9" text-anchor="end" fill="#231f20" textLength="4" lengthAdjust="spacingAndGlyphs" stroke="#231f20" stroke-width="0.06">0</text>
<line x1="428.9" y1="367.1" x2="500.5" y2="367.1" stroke="#231f20" stroke-width="1.2" stroke-linecap="butt"/>
<line x1="429.5" y1="367.1" x2="429.5" y2="369.3" stroke="#231f20" stroke-width="0.9" stroke-linecap="butt"/>
<text x="429.5" y="380.8" font-size="9" text-anchor="middle" fill="#231f20" textLength="4.1" lengthAdjust="spacingAndGlyphs" stroke="#231f20" stroke-width="0.06">0</text>
<line x1="452.74" y1="367.1" x2="452.74" y2="369.3" stroke="#231f20" stroke-width="0.9" stroke-linecap="butt"/>
<text x="452.74" y="380.8" font-size="9" text-anchor="middle" fill="#231f20" textLength="8.21" lengthAdjust="spacingAndGlyphs" stroke="#231f20" stroke-width="0.06">20</text>
<line x1="475.98" y1="367.1" x2="475.98" y2="369.3" stroke="#231f20" stroke-width="0.9" stroke-linecap="butt"/>
<text x="475.98" y="380.8" font-size="9" text-anchor="middle" fill="#231f20" textLength="8.21" lengthAdjust="spacingAndGlyphs" stroke="#231f20" stroke-width="0.06">40</text>
<line x1="499.22" y1="367.1" x2="499.22" y2="369.3" stroke="#231f20" stroke-width="0.9" stroke-linecap="butt"/>
<text x="499.22" y="380.8" font-size="9" text-anchor="middle" fill="#231f20" textLength="8.21" lengthAdjust="spacingAndGlyphs" stroke="#231f20" stroke-width="0.06">60</text>
<text x="429.5" y="394.01" font-size="10.3" text-anchor="start" fill="#231f20" textLength="73.1" lengthAdjust="spacingAndGlyphs" stroke="#231f20" stroke-width="0.06">Days after rechallenge</text>
<text transform="translate(403.2,333.55) rotate(-90)" x="0" y="3.46" font-size="9.6" text-anchor="middle" fill="#231f20" textLength="48.7" lengthAdjust="spacingAndGlyphs" stroke="#231f20" stroke-width="0.06">Survival (%)</text>
<polyline points="473.7,301.3 499.2,301.3" fill="none" stroke="#a8242a" stroke-width="1.2" />
<polyline points="429.5,301.3 473.7,301.3" fill="none" stroke="#468a4a" stroke-width="1.2" />
<circle cx="498.8" cy="301.3" r="1" fill="#5a1a1a"/>
<polyline points="473.7,301.3 473.7,317.6 479.5,317.6 479.5,333.4 480.8,333.4 480.8,367.1" fill="none" stroke="#4a2370" stroke-width="1.1" />
<text x="7" y="420.2" font-size="10.8" font-weight="bold" fill="#000" stroke="#000" stroke-width="0.3">F</text>
<text x="54.5" y="416.92" font-size="8.8" text-anchor="start" fill="#231f20" textLength="23.5" lengthAdjust="spacingAndGlyphs" stroke="#231f20" stroke-width="0.06">Vehicle</text>
<text x="138" y="416.67" font-size="8.8" text-anchor="start" fill="#231f20" textLength="24" lengthAdjust="spacingAndGlyphs" stroke="#231f20" stroke-width="0.06">NL-201</text>
<rect x="30.5" y="421.5" width="73" height="72" fill="none" stroke="#808080" stroke-width="1" fill-opacity="1"/>
<line x1="29.3" y1="438.5" x2="30.5" y2="438.5" stroke="#555" stroke-width="0.6" stroke-linecap="butt"/>
<line x1="29.3" y1="459.5" x2="30.5" y2="459.5" stroke="#555" stroke-width="0.6" stroke-linecap="butt"/>
<line x1="29.3" y1="476.5" x2="30.5" y2="476.5" stroke="#555" stroke-width="0.6" stroke-linecap="butt"/>
<line x1="34" y1="493.5" x2="34" y2="494.7" stroke="#555" stroke-width="0.6" stroke-linecap="butt"/>
<line x1="55.5" y1="493.5" x2="55.5" y2="494.7" stroke="#555" stroke-width="0.6" stroke-linecap="butt"/>
<line x1="71.5" y1="493.5" x2="71.5" y2="494.7" stroke="#555" stroke-width="0.6" stroke-linecap="butt"/>
<line x1="86.5" y1="493.5" x2="86.5" y2="494.7" stroke="#555" stroke-width="0.6" stroke-linecap="butt"/>
<rect x="29.1" y="475" width="1.2" height="3" fill="#222" stroke="none" stroke-width="0" fill-opacity="1"/>
<rect x="43.5" y="493.8" width="3" height="1.3" fill="#222" stroke="none" stroke-width="0" fill-opacity="1"/>
<g filter="url(#blur1)">
<rect x="37.8" y="467.3" width="51" height="14.8" rx="7.4" fill="#d3d6f2"/>
<rect x="39.5" y="468.2" width="44" height="13.2" rx="6.6" fill="#aeb2e2"/>
<ellipse cx="58.5" cy="474.8" rx="17.5" ry="6" fill="#8a90d2"/>
<ellipse cx="58.5" cy="474.8" rx="14.5" ry="4.6" fill="#777ec9"/>
<ellipse cx="59.5" cy="474.6" rx="11.5" ry="2.9" fill="#9096d6"/>
<ellipse cx="61" cy="474.5" rx="9.5" ry="0.9" fill="#f0f1fb"/>
<ellipse cx="80" cy="474.6" rx="7.8" ry="5.3" fill="#c6c9ee" stroke="#959bd8" stroke-width="0.9"/>
<ellipse cx="80.5" cy="474.6" rx="4.8" ry="3.2" fill="#dfe1f6" stroke="#abb0e2" stroke-width="0.7"/>
<path d="M80,468 C79.5,462 80.5,456 83,454 C85.5,456 86.5,462 86,468" fill="none" stroke="#c5c9ec" stroke-width="0.7"/>
</g>
<circle cx="80" cy="452" r="0.55" fill="#c3c7ea"/>
<circle cx="84" cy="448" r="0.55" fill="#c3c7ea"/>
<circle cx="88" cy="456" r="0.55" fill="#c3c7ea"/>
<circle cx="76" cy="458" r="0.55" fill="#c3c7ea"/>
<circle cx="86" cy="462" r="0.55" fill="#c3c7ea"/>
<circle cx="52" cy="461" r="0.55" fill="#c3c7ea"/>
<circle cx="60" cy="457" r="0.55" fill="#c3c7ea"/>
<circle cx="44" cy="460" r="0.55" fill="#c3c7ea"/>
<circle cx="82" cy="445" r="0.55" fill="#c3c7ea"/>
<circle cx="89" cy="450" r="0.55" fill="#c3c7ea"/>
<circle cx="78" cy="463" r="0.55" fill="#c3c7ea"/>
<circle cx="90" cy="470" r="0.55" fill="#c3c7ea"/>
<circle cx="36" cy="472" r="0.55" fill="#c3c7ea"/>
<circle cx="91" cy="478" r="0.55" fill="#c3c7ea"/>
<line x1="71.5" y1="421.5" x2="71.5" y2="493.5" stroke="#3a3a3a" stroke-width="1" stroke-linecap="butt"/>
<line x1="30.5" y1="466.5" x2="103.5" y2="466.5" stroke="#3a3a3a" stroke-width="1" stroke-linecap="butt"/>
<text x="32" y="429.73" font-size="8.7" text-anchor="start" fill="#231f20" textLength="18.72" lengthAdjust="spacingAndGlyphs" stroke="#231f20" stroke-width="0.06">0.067</text>
<text x="102" y="429.73" font-size="8.7" text-anchor="end" fill="#231f20" textLength="14.56" lengthAdjust="spacingAndGlyphs" stroke="#231f20" stroke-width="0.06">0.64</text>
<text x="32" y="492.43" font-size="8.7" text-anchor="start" fill="#231f20" textLength="14.56" lengthAdjust="spacingAndGlyphs" stroke="#231f20" stroke-width="0.06">80.6</text>
<text x="102" y="492.43" font-size="8.7" text-anchor="end" fill="#231f20" textLength="14.56" lengthAdjust="spacingAndGlyphs" stroke="#231f20" stroke-width="0.06">18.7</text>
<rect x="114.5" y="421.5" width="72" height="73" fill="none" stroke="#808080" stroke-width="1" fill-opacity="1"/>
<line x1="113.3" y1="438.5" x2="114.5" y2="438.5" stroke="#555" stroke-width="0.6" stroke-linecap="butt"/>
<line x1="113.3" y1="459.5" x2="114.5" y2="459.5" stroke="#555" stroke-width="0.6" stroke-linecap="butt"/>
<line x1="113.3" y1="476.5" x2="114.5" y2="476.5" stroke="#555" stroke-width="0.6" stroke-linecap="butt"/>
<line x1="118" y1="494.5" x2="118" y2="495.7" stroke="#555" stroke-width="0.6" stroke-linecap="butt"/>
<line x1="139.5" y1="494.5" x2="139.5" y2="495.7" stroke="#555" stroke-width="0.6" stroke-linecap="butt"/>
<line x1="155.5" y1="494.5" x2="155.5" y2="495.7" stroke="#555" stroke-width="0.6" stroke-linecap="butt"/>
<line x1="170.5" y1="494.5" x2="170.5" y2="495.7" stroke="#555" stroke-width="0.6" stroke-linecap="butt"/>
<rect x="113.1" y="475" width="1.2" height="3" fill="#222" stroke="none" stroke-width="0" fill-opacity="1"/>
<rect x="127.5" y="494.8" width="3" height="1.3" fill="#222" stroke="none" stroke-width="0" fill-opacity="1"/>
<g filter="url(#blur1)">
<path d="M123.2,474.5 C123.2,469.5 130,467.3 140,467.3 C152,467.3 162,469 165.5,472.5 C167.5,475 165,479 158,481.5 C150,483.5 135,483.3 128,481.5 C124.5,480.3 123.2,477.5 123.2,474.5 Z" fill="#c9e6ce"/>
<path d="M125.5,474.8 C125.5,470.5 131,468.8 140,468.8 C150,468.8 158,470 160.5,473 C162,476 158,479.5 152,481 C145,482.3 134,482 129,480.5 C126.5,479.5 125.5,477.5 125.5,474.8 Z" fill="#acdcb5"/>
<path d="M128,475 C128,471.5 133,470.3 141,470.3 C149,470.3 155,471.5 156.5,474 C157.5,476.5 153,479 147,480 C140,480.8 133,480.3 130,479 C128.5,478.2 128,476.8 128,475 Z" fill="#8fce9c"/>
<ellipse cx="144" cy="475.3" rx="9.5" ry="1.9" fill="#b6e1be"/>
<ellipse cx="148" cy="475.3" rx="4" ry="0.9" fill="#e6f6e9"/>
<path d="M161,474 C160.5,462 161,450 164,444 C167,441 172,441.5 173.5,447 C174.5,455 174,466 174.5,478" fill="none" stroke="#d5e2d7" stroke-width="0.7"/>
<path d="M164.5,470 C164,462 165,452 167,448.3 C169,447.3 170.6,449 170.6,456 C170.6,462 170.5,468 171.3,476" fill="#f7fbf8" stroke="#a9c9ae" stroke-width="0.9"/>
<path d="M166,466 C166,459 166.5,453 168,451 C169.5,452 169.3,458 169,466" fill="none" stroke="#cfe2d2" stroke-width="0.6"/>
</g>
<circle cx="160" cy="455" r="0.55" fill="#c8dccb"/>
<circle cx="150" cy="460" r="0.55" fill="#c8dccb"/>
<circle cx="176" cy="452" r="0.55" fill="#c8dccb"/>
<circle cx="178" cy="446" r="0.55" fill="#c8dccb"/>
<circle cx="173" cy="440" r="0.55" fill="#c8dccb"/>
<circle cx="160" cy="462" r="0.55" fill="#c8dccb"/>
<circle cx="145" cy="458" r="0.55" fill="#c8dccb"/>
<circle cx="162" cy="444" r="0.55" fill="#c8dccb"/>
<circle cx="174" cy="458" r="0.55" fill="#c8dccb"/>
<circle cx="176" cy="468" r="0.55" fill="#c8dccb"/>
<circle cx="172" cy="478" r="0.55" fill="#c8dccb"/>
<circle cx="158" cy="450" r="0.55" fill="#c8dccb"/>
<circle cx="140" cy="462" r="0.55" fill="#c8dccb"/>
<line x1="155.5" y1="421.5" x2="155.5" y2="494.5" stroke="#3a3a3a" stroke-width="1" stroke-linecap="butt"/>
<line x1="114.5" y1="466.5" x2="186.5" y2="466.5" stroke="#3a3a3a" stroke-width="1" stroke-linecap="butt"/>
<text x="116" y="429.73" font-size="8.7" text-anchor="start" fill="#231f20" textLength="14.56" lengthAdjust="spacingAndGlyphs" stroke="#231f20" stroke-width="0.06">0.59</text>
<text x="185" y="429.73" font-size="8.7" text-anchor="end" fill="#231f20" textLength="14.56" lengthAdjust="spacingAndGlyphs" stroke="#231f20" stroke-width="0.06">7.37</text>
<text x="116" y="492.43" font-size="8.7" text-anchor="start" fill="#231f20" textLength="14.56" lengthAdjust="spacingAndGlyphs" stroke="#231f20" stroke-width="0.06">76.4</text>
<text x="185" y="492.43" font-size="8.7" text-anchor="end" fill="#231f20" textLength="14.56" lengthAdjust="spacingAndGlyphs" stroke="#231f20" stroke-width="0.06">15.7</text>
<line x1="19.6" y1="504.8" x2="19.6" y2="481" stroke="#231f20" stroke-width="1.0" stroke-linecap="butt"/>
<polygon points="19.6,477.5 17.5,481.7 21.7,481.7" fill="#231f20" stroke="none" stroke-width="0" fill-opacity="1"/>
<line x1="19.6" y1="504.8" x2="44.4" y2="504.8" stroke="#231f20" stroke-width="1.0" stroke-linecap="butt"/>
<polygon points="47.9,504.8 43.7,502.7 43.7,506.9" fill="#231f20" stroke="none" stroke-width="0" fill-opacity="1"/>
<text transform="translate(11.6,490.55) rotate(-90)" x="0" y="3.1" font-size="8.6" text-anchor="middle" fill="#231f20" textLength="27.9" lengthAdjust="spacingAndGlyphs" stroke="#231f20" stroke-width="0.06">IFNγ-YFP</text>
<text x="25.2" y="515.64" font-size="9" text-anchor="start" fill="#231f20" textLength="17.7" lengthAdjust="spacingAndGlyphs" stroke="#231f20" stroke-width="0.06">CD44</text>
<line x1="246.25" y1="416.25" x2="246.25" y2="495.1" stroke="#231f20" stroke-width="1.2" stroke-linecap="butt"/>
<line x1="243.25" y1="494.5" x2="246.25" y2="494.5" stroke="#231f20" stroke-width="1.2" stroke-linecap="butt"/>
<text x="240.5" y="497.74" font-size="9" text-anchor="end" fill="#231f20" textLength="4" lengthAdjust="spacingAndGlyphs" stroke="#231f20" stroke-width="0.06">0</text>
<line x1="243.25" y1="469.5" x2="246.25" y2="469.5" stroke="#231f20" stroke-width="1.2" stroke-linecap="butt"/>
<text x="240.5" y="472.74" font-size="9" text-anchor="end" fill="#231f20" textLength="4" lengthAdjust="spacingAndGlyphs" stroke="#231f20" stroke-width="0.06">5</text>
<line x1="243.25" y1="444.25" x2="246.25" y2="444.25" stroke="#231f20" stroke-width="1.2" stroke-linecap="butt"/>
<text x="240.5" y="447.49" font-size="9" text-anchor="end" fill="#231f20" textLength="8.01" lengthAdjust="spacingAndGlyphs" stroke="#231f20" stroke-width="0.06">10</text>
<line x1="243.25" y1="418.75" x2="246.25" y2="418.75" stroke="#231f20" stroke-width="1.2" stroke-linecap="butt"/>
<text x="240.5" y="421.99" font-size="9" text-anchor="end" fill="#231f20" textLength="8.01" lengthAdjust="spacingAndGlyphs" stroke="#231f20" stroke-width="0.06">15</text>
<line x1="245.65" y1="494.5" x2="323" y2="494.5" stroke="#231f20" stroke-width="1.2" stroke-linecap="butt"/>
<line x1="270" y1="494.5" x2="270" y2="496.6" stroke="#231f20" stroke-width="0.9" stroke-linecap="butt"/>
<line x1="298.8" y1="494.5" x2="298.8" y2="496.6" stroke="#231f20" stroke-width="0.9" stroke-linecap="butt"/>
<rect x="259.5" y="492" width="21" height="2.1" fill="#8e9cc9" stroke="none" stroke-width="0" fill-opacity="1"/>
<rect x="288" y="453.75" width="22.5" height="40.35" fill="#abd395" stroke="none" stroke-width="0" fill-opacity="1"/>
<rect x="263.85" y="489.45" width="2.3" height="2.3" fill="#1d3a78" stroke="none" stroke-width="0" fill-opacity="1"/>
<rect x="267.35" y="489.45" width="2.3" height="2.3" fill="#1d3a78" stroke="none" stroke-width="0" fill-opacity="1"/>
<rect x="270.85" y="489.45" width="2.3" height="2.3" fill="#1d3a78" stroke="none" stroke-width="0" fill-opacity="1"/>
<rect x="274.35" y="489.45" width="2.3" height="2.3" fill="#1d3a78" stroke="none" stroke-width="0" fill-opacity="1"/>
<line x1="270" y1="490" x2="270" y2="492.5" stroke="#1d3a78" stroke-width="0.8" stroke-linecap="butt"/>
<line x1="267.5" y1="490" x2="272.5" y2="490" stroke="#1d3a78" stroke-width="0.8" stroke-linecap="butt"/>
<line x1="267.5" y1="492.5" x2="272.5" y2="492.5" stroke="#1d3a78" stroke-width="0.8" stroke-linecap="butt"/>
<polygon points="298.8,439.75 297.35,442.56 300.25,442.56" fill="#3fa041" stroke="none" stroke-width="0" fill-opacity="1"/>
<polygon points="298.8,453 297.35,455.81 300.25,455.81" fill="#3fa041" stroke="none" stroke-width="0" fill-opacity="1"/>
<polygon points="298.8,464 297.35,466.81 300.25,466.81" fill="#3fa041" stroke="none" stroke-width="0" fill-opacity="1"/>
<line x1="298.8" y1="446.25" x2="298.8" y2="460.5" stroke="#3fa041" stroke-width="0.8" stroke-linecap="butt"/>
<line x1="295.3" y1="446.25" x2="302.3" y2="446.25" stroke="#3fa041" stroke-width="0.8" stroke-linecap="butt"/>
<line x1="295.3" y1="460.5" x2="302.3" y2="460.5" stroke="#3fa041" stroke-width="0.8" stroke-linecap="butt"/>
<polyline points="270,435.5 270,431.25 299.25,431.25 299.25,435.5" fill="none" stroke="#231f20" stroke-width="1.0" />
<path d="M284.62,425.8L284.62,428.2M285.66,426.4L283.59,427.6M285.66,427.6L283.59,426.4" stroke="#231f20" stroke-width="0.65" fill="none" stroke-linecap="round"/>
<circle cx="284.62" cy="427" r="0.85" fill="#231f20"/>
<text transform="translate(212.5,457.5) rotate(-90)" x="0" y="3.35" font-size="9.3" text-anchor="middle" fill="#231f20" textLength="30" lengthAdjust="spacingAndGlyphs" stroke="#231f20" stroke-width="0.06">IFNγ-YFP<tspan baseline-shift="super" font-size="5.2">+</tspan></text>
<text transform="translate(223.75,456.25) rotate(-90)" x="0" y="3.35" font-size="9.3" text-anchor="middle" fill="#231f20" textLength="52.5" lengthAdjust="spacingAndGlyphs" stroke="#231f20" stroke-width="0.06">in CD8 T cell (%)</text>
<text transform="translate(269.6,502) rotate(-45)" x="0" y="2.88" font-size="8" text-anchor="end" fill="#231f20" textLength="25.5" lengthAdjust="spacingAndGlyphs" stroke="#231f20" stroke-width="0.06">Vehicle</text>
<text transform="translate(298.6,501.6) rotate(-45)" x="0" y="2.88" font-size="8" text-anchor="end" fill="#231f20" textLength="25" lengthAdjust="spacingAndGlyphs" stroke="#231f20" stroke-width="0.06">NL-201</text>
<text x="6.86" y="548.1" font-size="10.8" font-weight="bold" fill="#000" stroke="#000" stroke-width="0.3">G</text>
<text x="53.75" y="557.67" font-size="8.8" text-anchor="start" fill="#231f20" textLength="23.75" lengthAdjust="spacingAndGlyphs" stroke="#231f20" stroke-width="0.06">Vehicle</text>
<text x="137.5" y="557.57" font-size="8.8" text-anchor="start" fill="#231f20" textLength="24.4" lengthAdjust="spacingAndGlyphs" stroke="#231f20" stroke-width="0.06">NL-201</text>
<rect x="30.5" y="562.5" width="73" height="72" fill="none" stroke="#808080" stroke-width="1" fill-opacity="1"/>
<line x1="29.3" y1="579.5" x2="30.5" y2="579.5" stroke="#555" stroke-width="0.6" stroke-linecap="butt"/>
<line x1="29.3" y1="600.5" x2="30.5" y2="600.5" stroke="#555" stroke-width="0.6" stroke-linecap="butt"/>
<line x1="29.3" y1="617.5" x2="30.5" y2="617.5" stroke="#555" stroke-width="0.6" stroke-linecap="butt"/>
<line x1="34" y1="634.5" x2="34" y2="635.7" stroke="#555" stroke-width="0.6" stroke-linecap="butt"/>
<line x1="55.5" y1="634.5" x2="55.5" y2="635.7" stroke="#555" stroke-width="0.6" stroke-linecap="butt"/>
<line x1="71.5" y1="634.5" x2="71.5" y2="635.7" stroke="#555" stroke-width="0.6" stroke-linecap="butt"/>
<line x1="86.5" y1="634.5" x2="86.5" y2="635.7" stroke="#555" stroke-width="0.6" stroke-linecap="butt"/>
<rect x="29.1" y="616" width="1.2" height="3" fill="#222" stroke="none" stroke-width="0" fill-opacity="1"/>
<rect x="43.5" y="634.8" width="3" height="1.3" fill="#222" stroke="none" stroke-width="0" fill-opacity="1"/>
<circle cx="50.28" cy="606.3" r="0.45" fill="#d2d5f2"/>
<circle cx="90.96" cy="602.65" r="0.45" fill="#b8bce8"/>
<circle cx="39.93" cy="578.68" r="0.45" fill="#d2d5f2"/>
<circle cx="51.56" cy="590.19" r="0.45" fill="#b8bce8"/>
<circle cx="64.22" cy="621.5" r="0.45" fill="#d2d5f2"/>
<circle cx="59.83" cy="622.77" r="0.45" fill="#c5c9ee"/>
<circle cx="74.09" cy="623.14" r="0.45" fill="#b8bce8"/>
<circle cx="59.4" cy="578.79" r="0.45" fill="#c5c9ee"/>
<circle cx="45.56" cy="627.79" r="0.45" fill="#c5c9ee"/>
<circle cx="54.08" cy="579.61" r="0.45" fill="#d2d5f2"/>
<circle cx="64.36" cy="615.38" r="0.45" fill="#d2d5f2"/>
<circle cx="78.85" cy="625.9" r="0.45" fill="#d2d5f2"/>
<circle cx="79.69" cy="608" r="0.45" fill="#c5c9ee"/>
<circle cx="88.73" cy="583.07" r="0.45" fill="#c5c9ee"/>
<circle cx="65.69" cy="591.42" r="0.45" fill="#b8bce8"/>
<circle cx="62.17" cy="610.59" r="0.45" fill="#d2d5f2"/>
<circle cx="61.27" cy="621.34" r="0.45" fill="#b8bce8"/>
<circle cx="57.05" cy="608.42" r="0.45" fill="#b8bce8"/>
<circle cx="49.94" cy="595.51" r="0.45" fill="#c5c9ee"/>
<circle cx="87.38" cy="629.53" r="0.45" fill="#b8bce8"/>
<circle cx="77.73" cy="614.33" r="0.45" fill="#d2d5f2"/>
<circle cx="93.88" cy="625.04" r="0.45" fill="#b8bce8"/>
<circle cx="42.24" cy="612.09" r="0.45" fill="#b8bce8"/>
<circle cx="85.9" cy="607.82" r="0.45" fill="#d2d5f2"/>
<circle cx="43.47" cy="603.06" r="0.45" fill="#b8bce8"/>
<circle cx="95.39" cy="582.6" r="0.45" fill="#c5c9ee"/>
<circle cx="60.63" cy="585.84" r="0.45" fill="#d2d5f2"/>
<circle cx="61.63" cy="599.59" r="0.45" fill="#c5c9ee"/>
<circle cx="38.65" cy="609.96" r="0.45" fill="#c5c9ee"/>
<circle cx="58.67" cy="608.49" r="0.45" fill="#b8bce8"/>
<circle cx="88.85" cy="628.99" r="0.45" fill="#b8bce8"/>
<circle cx="50.16" cy="579.87" r="0.45" fill="#c5c9ee"/>
<circle cx="40.62" cy="609.19" r="0.45" fill="#c5c9ee"/>
<circle cx="92.93" cy="628.51" r="0.45" fill="#d2d5f2"/>
<circle cx="72.63" cy="586.12" r="0.45" fill="#c5c9ee"/>
<circle cx="94.79" cy="595.67" r="0.45" fill="#d2d5f2"/>
<circle cx="93.52" cy="624.63" r="0.45" fill="#d2d5f2"/>
<circle cx="58.61" cy="623.23" r="0.45" fill="#d2d5f2"/>
<circle cx="74.63" cy="608.97" r="0.45" fill="#b8bce8"/>
<circle cx="42.15" cy="628.59" r="0.45" fill="#b8bce8"/>
<circle cx="52.28" cy="610.98" r="0.45" fill="#b8bce8"/>
<circle cx="50.26" cy="593.66" r="0.45" fill="#d2d5f2"/>
<circle cx="67.27" cy="606.52" r="0.45" fill="#c5c9ee"/>
<circle cx="83.3" cy="629.35" r="0.45" fill="#d2d5f2"/>
<circle cx="37.2" cy="610.02" r="0.45" fill="#b8bce8"/>
<circle cx="44" cy="610.94" r="0.45" fill="#d2d5f2"/>
<circle cx="63.98" cy="613.32" r="0.45" fill="#d2d5f2"/>
<circle cx="72.53" cy="592.5" r="0.45" fill="#d2d5f2"/>
<circle cx="37.33" cy="581.15" r="0.45" fill="#b8bce8"/>
<circle cx="37.28" cy="597.2" r="0.45" fill="#b8bce8"/>
<circle cx="63.38" cy="608.82" r="0.45" fill="#d2d5f2"/>
<circle cx="46.65" cy="587.63" r="0.45" fill="#d2d5f2"/>
<circle cx="86.63" cy="591.74" r="0.45" fill="#d2d5f2"/>
<circle cx="42.29" cy="620.28" r="0.45" fill="#b8bce8"/>
<circle cx="77.02" cy="584.83" r="0.45" fill="#b8bce8"/>
<circle cx="49.35" cy="619.8" r="0.45" fill="#c5c9ee"/>
<circle cx="55.67" cy="613.26" r="0.45" fill="#b8bce8"/>
<circle cx="77.88" cy="583.3" r="0.45" fill="#d2d5f2"/>
<circle cx="92.95" cy="613.1" r="0.45" fill="#c5c9ee"/>
<circle cx="62.31" cy="622.49" r="0.45" fill="#c5c9ee"/>
<circle cx="40.8" cy="616.59" r="0.45" fill="#c5c9ee"/>
<circle cx="89.09" cy="601.46" r="0.45" fill="#c5c9ee"/>
<circle cx="83.22" cy="579.76" r="0.45" fill="#c5c9ee"/>
<circle cx="54.91" cy="621.48" r="0.45" fill="#b8bce8"/>
<circle cx="47.02" cy="592.49" r="0.45" fill="#b8bce8"/>
<circle cx="41.13" cy="610.21" r="0.45" fill="#b8bce8"/>
<circle cx="43.78" cy="593.18" r="0.45" fill="#d2d5f2"/>
<circle cx="63.88" cy="610.98" r="0.45" fill="#d2d5f2"/>
<circle cx="61.19" cy="599.3" r="0.45" fill="#d2d5f2"/>
<circle cx="45.36" cy="578.24" r="0.45" fill="#b8bce8"/>
<circle cx="95.21" cy="600.59" r="0.45" fill="#b8bce8"/>
<circle cx="49.33" cy="616.77" r="0.45" fill="#b8bce8"/>
<circle cx="80.88" cy="628.1" r="0.45" fill="#b8bce8"/>
<circle cx="56.46" cy="589.83" r="0.45" fill="#c5c9ee"/>
<circle cx="87.48" cy="628.49" r="0.45" fill="#c5c9ee"/>
<circle cx="84.61" cy="580.34" r="0.45" fill="#b8bce8"/>
<circle cx="66.74" cy="588.32" r="0.45" fill="#d2d5f2"/>
<circle cx="70.62" cy="578.68" r="0.45" fill="#b8bce8"/>
<circle cx="43.25" cy="604.17" r="0.45" fill="#c5c9ee"/>
<circle cx="75.77" cy="605.3" r="0.45" fill="#d2d5f2"/>
<circle cx="39.19" cy="625.48" r="0.45" fill="#c5c9ee"/>
<circle cx="56.48" cy="591.13" r="0.45" fill="#b8bce8"/>
<circle cx="64.63" cy="618.68" r="0.45" fill="#d2d5f2"/>
<circle cx="49.25" cy="584.36" r="0.45" fill="#c5c9ee"/>
<circle cx="46.28" cy="619.17" r="0.45" fill="#c5c9ee"/>
<circle cx="85.41" cy="578.39" r="0.45" fill="#b8bce8"/>
<circle cx="70.25" cy="598.81" r="0.45" fill="#d2d5f2"/>
<circle cx="50.9" cy="610.14" r="0.45" fill="#b8bce8"/>
<circle cx="61.38" cy="602.59" r="0.45" fill="#c5c9ee"/>
<circle cx="87.42" cy="618.31" r="0.45" fill="#c5c9ee"/>
<circle cx="43.48" cy="581.56" r="0.45" fill="#c5c9ee"/>
<circle cx="87.27" cy="582.48" r="0.45" fill="#b8bce8"/>
<circle cx="65.4" cy="586.17" r="0.45" fill="#c5c9ee"/>
<circle cx="57.08" cy="611.64" r="0.45" fill="#b8bce8"/>
<circle cx="54.25" cy="591.78" r="0.45" fill="#d2d5f2"/>
<circle cx="61.72" cy="584.64" r="0.45" fill="#c5c9ee"/>
<circle cx="78.96" cy="597.77" r="0.45" fill="#c5c9ee"/>
<circle cx="70" cy="580.23" r="0.45" fill="#d2d5f2"/>
<circle cx="72.27" cy="618.7" r="0.45" fill="#d2d5f2"/>
<circle cx="74.2" cy="580.26" r="0.45" fill="#d2d5f2"/>
<circle cx="39.18" cy="610.63" r="0.45" fill="#b8bce8"/>
<circle cx="54.9" cy="627.42" r="0.45" fill="#d2d5f2"/>
<circle cx="63.65" cy="590.74" r="0.45" fill="#b8bce8"/>
<circle cx="52.21" cy="608.67" r="0.45" fill="#d2d5f2"/>
<circle cx="49.47" cy="584.78" r="0.45" fill="#c5c9ee"/>
<circle cx="92.19" cy="597.46" r="0.45" fill="#b8bce8"/>
<circle cx="83.46" cy="591.63" r="0.45" fill="#d2d5f2"/>
<circle cx="77.43" cy="626.83" r="0.45" fill="#b8bce8"/>
<circle cx="75.74" cy="624.14" r="0.45" fill="#d2d5f2"/>
<circle cx="76.05" cy="616.15" r="0.45" fill="#b8bce8"/>
<ellipse cx="64" cy="603" rx="27" ry="22" fill="#eff0fb" filter="url(#blur2)"/>
<g filter="url(#blur1)">
<path d="M43,590 C43,586 47,584 53,584 C59,584 63.6,585 63.6,590 L63.6,598 C63.6,602 66,604 71,604 L80,604 C85,604.5 88.5,608 88.5,613 C88.5,619 85,622.5 78,622.5 C71,622.5 64,620.5 58,618.5 C51,616.5 46,616 44,613 C42.6,610 42.8,600 43,590 Z" fill="#d9dcf4" stroke="#d3d6f3" stroke-width="4"/>
<path d="M43,590 C43,586 47,584 53,584 C59,584 63.6,585 63.6,590 L63.6,598 C63.6,602 66,604 71,604 L80,604 C85,604.5 88.5,608 88.5,613 C88.5,619 85,622.5 78,622.5 C71,622.5 64,620.5 58,618.5 C51,616.5 46,616 44,613 C42.6,610 42.8,600 43,590 Z" fill="none" stroke="#b3b7e6" stroke-width="1"/>
<path d="M44.6,591 C44.6,587.6 48,585.7 53,585.7 C58,585.7 62,586.6 62,591 L62,600 C62,605 57,607.5 52,607.5 C47,607.5 44.6,605 44.6,600 Z" transform="translate(53.3,596.5) scale(1.0) translate(-53.3,-596.5)" fill="#e3e5f7" stroke="#a2a7dd" stroke-width="1.50"/>
<path d="M44.6,591 C44.6,587.6 48,585.7 53,585.7 C58,585.7 62,586.6 62,591 L62,600 C62,605 57,607.5 52,607.5 C47,607.5 44.6,605 44.6,600 Z" transform="translate(53.3,596.5) scale(0.78) translate(-53.3,-596.5)" fill="#eceefa" stroke="#babee8" stroke-width="1.15"/>
<path d="M44.6,591 C44.6,587.6 48,585.7 53,585.7 C58,585.7 62,586.6 62,591 L62,600 C62,605 57,607.5 52,607.5 C47,607.5 44.6,605 44.6,600 Z" transform="translate(53.3,596.5) scale(0.56) translate(-53.3,-596.5)" fill="none" stroke="#c8cbee" stroke-width="1.43"/>
<path d="M44.6,591 C44.6,587.6 48,585.7 53,585.7 C58,585.7 62,586.6 62,591 L62,600 C62,605 57,607.5 52,607.5 C47,607.5 44.6,605 44.6,600 Z" transform="translate(53.3,596.5) scale(0.34) translate(-53.3,-596.5)" fill="none" stroke="#d4d7f2" stroke-width="2.06"/>
<ellipse cx="52.8" cy="595" rx="2.6" ry="3.2" fill="#f8f8fe"/>
<path d="M45,609 C49,607.5 54,608 57,609.5" fill="none" stroke="#c5c8ed" stroke-width="0.7"/>
<path d="M46,612.5 C50,611.5 54,612 57,613" fill="none" stroke="#ccd0f0" stroke-width="0.6"/>
<path d="M58,609 C64,606 75,605.3 81,605.5 C85.5,606.5 87.5,610 87.2,614 C86.8,619 83,621.5 77,621.5 C70,621.5 63,619.5 58,617 C53,615.5 52,611 58,609 Z" transform="translate(73,614) scale(1.0) translate(-73,-614)" fill="#e4e6f8" stroke="#7f86cf" stroke-width="1.60"/>
<path d="M58,609 C64,606 75,605.3 81,605.5 C85.5,606.5 87.5,610 87.2,614 C86.8,619 83,621.5 77,621.5 C70,621.5 63,619.5 58,617 C53,615.5 52,611 58,609 Z" transform="translate(73,614) scale(0.78) translate(-73,-614)" fill="#eceefa" stroke="#a5aae0" stroke-width="1.15"/>
<path d="M58,609 C64,606 75,605.3 81,605.5 C85.5,606.5 87.5,610 87.2,614 C86.8,619 83,621.5 77,621.5 C70,621.5 63,619.5 58,617 C53,615.5 52,611 58,609 Z" transform="translate(73,614) scale(0.56) translate(-73,-614)" fill="none" stroke="#bcc0e9" stroke-width="1.43"/>
<path d="M58,609 C64,606 75,605.3 81,605.5 C85.5,606.5 87.5,610 87.2,614 C86.8,619 83,621.5 77,621.5 C70,621.5 63,619.5 58,617 C53,615.5 52,611 58,609 Z" transform="translate(73,614) scale(0.34) translate(-73,-614)" fill="#f8f9fe" stroke="#d3d6f2" stroke-width="2.06"/>
<path d="M56,617.4 C63,620.2 70,621.9 78,621.9 C84,621.9 87,618.5 87.3,613.5" fill="none" stroke="#6a72c3" stroke-width="1.4"/>
<ellipse cx="77.5" cy="614.5" rx="2.6" ry="1.2" fill="#ffffff"/>
</g>
<path d="M67.7,587.7 L85.5,587.5 L82.3,599.6 M85.5,587.5 L79,599 M69.2,592.3 C72,595 76,596.5 79.2,596.5" fill="none" stroke="#9297d4" stroke-width="0.8"/>
<path d="M66,585.5 L89.5,585 L85,601 L66.5,600.5" fill="none" stroke="#b9bde8" stroke-width="0.7"/>
<path d="M89.5,585 L91,583.5 M86.5,590 L90,586" fill="none" stroke="#c5c8ec" stroke-width="0.6"/>
<path d="M71,590 L82,589.8 L80,596" fill="none" stroke="#c2c6ec" stroke-width="0.5"/>
<line x1="67.5" y1="562.5" x2="67.5" y2="634.5" stroke="#3a3a3a" stroke-width="1" stroke-linecap="butt"/>
<line x1="30.5" y1="603.5" x2="103.5" y2="603.5" stroke="#3a3a3a" stroke-width="1" stroke-linecap="butt"/>
<text x="32" y="570.63" font-size="8.7" text-anchor="start" fill="#231f20" textLength="14.56" lengthAdjust="spacingAndGlyphs" stroke="#231f20" stroke-width="0.06">24.1</text>
<text x="102" y="570.63" font-size="8.7" text-anchor="end" fill="#231f20" textLength="14.56" lengthAdjust="spacingAndGlyphs" stroke="#231f20" stroke-width="0.06">9.65</text>
<text x="32" y="633.43" font-size="8.7" text-anchor="start" fill="#231f20" textLength="14.56" lengthAdjust="spacingAndGlyphs" stroke="#231f20" stroke-width="0.06">22.0</text>
<text x="102" y="633.43" font-size="8.7" text-anchor="end" fill="#231f20" textLength="14.56" lengthAdjust="spacingAndGlyphs" stroke="#231f20" stroke-width="0.06">44.3</text>
<rect x="115.5" y="562.5" width="73" height="72" fill="none" stroke="#808080" stroke-width="1" fill-opacity="1"/>
<line x1="114.3" y1="579.5" x2="115.5" y2="579.5" stroke="#555" stroke-width="0.6" stroke-linecap="butt"/>
<line x1="114.3" y1="600.5" x2="115.5" y2="600.5" stroke="#555" stroke-width="0.6" stroke-linecap="butt"/>
<line x1="114.3" y1="617.5" x2="115.5" y2="617.5" stroke="#555" stroke-width="0.6" stroke-linecap="butt"/>
<line x1="119" y1="634.5" x2="119" y2="635.7" stroke="#555" stroke-width="0.6" stroke-linecap="butt"/>
<line x1="140.5" y1="634.5" x2="140.5" y2="635.7" stroke="#555" stroke-width="0.6" stroke-linecap="butt"/>
<line x1="156.5" y1="634.5" x2="156.5" y2="635.7" stroke="#555" stroke-width="0.6" stroke-linecap="butt"/>
<line x1="171.5" y1="634.5" x2="171.5" y2="635.7" stroke="#555" stroke-width="0.6" stroke-linecap="butt"/>
<rect x="114.1" y="616" width="1.2" height="3" fill="#222" stroke="none" stroke-width="0" fill-opacity="1"/>
<rect x="128.5" y="634.8" width="3" height="1.3" fill="#222" stroke="none" stroke-width="0" fill-opacity="1"/>
<circle cx="161.87" cy="615.57" r="0.45" fill="#bfcfc1"/>
<circle cx="182.32" cy="615.47" r="0.45" fill="#bfcfc1"/>
<circle cx="123.86" cy="601.21" r="0.45" fill="#cbd8cc"/>
<circle cx="163.53" cy="623.85" r="0.45" fill="#cbd8cc"/>
<circle cx="145.79" cy="622.16" r="0.45" fill="#d6e0d7"/>
<circle cx="156.8" cy="606.84" r="0.45" fill="#cbd8cc"/>
<circle cx="168.8" cy="598.22" r="0.45" fill="#cbd8cc"/>
<circle cx="180.65" cy="616.82" r="0.45" fill="#cbd8cc"/>
<circle cx="170.76" cy="580.74" r="0.45" fill="#bfcfc1"/>
<circle cx="161.52" cy="583.59" r="0.45" fill="#cbd8cc"/>
<circle cx="184.23" cy="577.28" r="0.45" fill="#cbd8cc"/>
<circle cx="183.45" cy="585.62" r="0.45" fill="#cbd8cc"/>
<circle cx="140.52" cy="627" r="0.45" fill="#bfcfc1"/>
<circle cx="178.07" cy="609.54" r="0.45" fill="#cbd8cc"/>
<circle cx="182.22" cy="612.91" r="0.45" fill="#d6e0d7"/>
<circle cx="141.12" cy="595.78" r="0.45" fill="#cbd8cc"/>
<circle cx="181.89" cy="590.72" r="0.45" fill="#d6e0d7"/>
<circle cx="141.29" cy="608.36" r="0.45" fill="#cbd8cc"/>
<circle cx="160.14" cy="613.8" r="0.45" fill="#cbd8cc"/>
<circle cx="141.84" cy="619.56" r="0.45" fill="#d6e0d7"/>
<circle cx="166.57" cy="586.61" r="0.45" fill="#d6e0d7"/>
<circle cx="167.1" cy="579.96" r="0.45" fill="#cbd8cc"/>
<circle cx="182.75" cy="595.6" r="0.45" fill="#d6e0d7"/>
<circle cx="123.16" cy="617.96" r="0.45" fill="#d6e0d7"/>
<circle cx="146.09" cy="620.74" r="0.45" fill="#d6e0d7"/>
<circle cx="124.99" cy="586.41" r="0.45" fill="#cbd8cc"/>
<circle cx="129.62" cy="589.8" r="0.45" fill="#d6e0d7"/>
<circle cx="144.04" cy="595.45" r="0.45" fill="#bfcfc1"/>
<circle cx="138.06" cy="601.07" r="0.45" fill="#bfcfc1"/>
<circle cx="169.9" cy="618.46" r="0.45" fill="#d6e0d7"/>
<circle cx="124.34" cy="626.18" r="0.45" fill="#cbd8cc"/>
<circle cx="135.34" cy="603.67" r="0.45" fill="#d6e0d7"/>
<circle cx="180.76" cy="594.68" r="0.45" fill="#bfcfc1"/>
<circle cx="156.89" cy="593.25" r="0.45" fill="#d6e0d7"/>
<circle cx="141.59" cy="618.54" r="0.45" fill="#bfcfc1"/>
<circle cx="131.53" cy="612.84" r="0.45" fill="#d6e0d7"/>
<circle cx="132.34" cy="579.52" r="0.45" fill="#bfcfc1"/>
<circle cx="156.15" cy="598.11" r="0.45" fill="#cbd8cc"/>
<circle cx="169.4" cy="594.88" r="0.45" fill="#d6e0d7"/>
<circle cx="151.16" cy="598.93" r="0.45" fill="#cbd8cc"/>
<circle cx="184.66" cy="610.19" r="0.45" fill="#d6e0d7"/>
<circle cx="143.39" cy="587.77" r="0.45" fill="#bfcfc1"/>
<circle cx="158.1" cy="583.9" r="0.45" fill="#d6e0d7"/>
<circle cx="128.82" cy="599.6" r="0.45" fill="#cbd8cc"/>
<circle cx="125.76" cy="598.87" r="0.45" fill="#cbd8cc"/>
<circle cx="151" cy="628.96" r="0.45" fill="#cbd8cc"/>
<circle cx="184.46" cy="600.58" r="0.45" fill="#d6e0d7"/>
<circle cx="166.09" cy="593.52" r="0.45" fill="#d6e0d7"/>
<circle cx="140.63" cy="598" r="0.45" fill="#cbd8cc"/>
<circle cx="129.2" cy="619.75" r="0.45" fill="#bfcfc1"/>
<circle cx="183.43" cy="609.6" r="0.45" fill="#d6e0d7"/>
<circle cx="177.54" cy="586.37" r="0.45" fill="#d6e0d7"/>
<circle cx="139.43" cy="617.66" r="0.45" fill="#bfcfc1"/>
<circle cx="145.12" cy="617.87" r="0.45" fill="#d6e0d7"/>
<circle cx="166.45" cy="611.53" r="0.45" fill="#d6e0d7"/>
<circle cx="145.26" cy="613.63" r="0.45" fill="#d6e0d7"/>
<circle cx="175.45" cy="590.77" r="0.45" fill="#bfcfc1"/>
<circle cx="167.82" cy="626.76" r="0.45" fill="#d6e0d7"/>
<circle cx="163.58" cy="607.19" r="0.45" fill="#cbd8cc"/>
<circle cx="152.36" cy="617.23" r="0.45" fill="#d6e0d7"/>
<circle cx="164.99" cy="601.07" r="0.45" fill="#bfcfc1"/>
<circle cx="163.44" cy="618.48" r="0.45" fill="#d6e0d7"/>
<circle cx="139.53" cy="594.97" r="0.45" fill="#d6e0d7"/>
<circle cx="144.4" cy="620.83" r="0.45" fill="#bfcfc1"/>
<circle cx="150.79" cy="595.94" r="0.45" fill="#d6e0d7"/>
<circle cx="155.16" cy="604.53" r="0.45" fill="#cbd8cc"/>
<circle cx="134.71" cy="595.83" r="0.45" fill="#d6e0d7"/>
<circle cx="140.1" cy="581.1" r="0.45" fill="#bfcfc1"/>
<circle cx="168.74" cy="585.93" r="0.45" fill="#bfcfc1"/>
<circle cx="155.05" cy="625.69" r="0.45" fill="#d6e0d7"/>
<circle cx="161.92" cy="617.28" r="0.45" fill="#bfcfc1"/>
<circle cx="139.33" cy="628.79" r="0.45" fill="#cbd8cc"/>
<circle cx="132.24" cy="599.94" r="0.45" fill="#bfcfc1"/>
<circle cx="133.57" cy="616.47" r="0.45" fill="#cbd8cc"/>
<circle cx="162.38" cy="579.18" r="0.45" fill="#d6e0d7"/>
<circle cx="184.7" cy="585.62" r="0.45" fill="#cbd8cc"/>
<circle cx="129.09" cy="627.33" r="0.45" fill="#d6e0d7"/>
<circle cx="134.38" cy="578.85" r="0.45" fill="#d6e0d7"/>
<circle cx="144.47" cy="611.45" r="0.45" fill="#cbd8cc"/>
<circle cx="159.77" cy="589.37" r="0.45" fill="#d6e0d7"/>
<ellipse cx="166" cy="601" rx="17" ry="23" fill="#eef7ef" filter="url(#blur2)"/>
<ellipse cx="139" cy="598" rx="16" ry="18" fill="#f5f7f5" filter="url(#blur2)"/>
<g filter="url(#blur1)">
<ellipse cx="141" cy="591" rx="13.5" ry="11" fill="#f1f4f1" stroke="#dbe2db" stroke-width="0.8"/>
<ellipse cx="141" cy="590.9" rx="10.6" ry="9" fill="none" stroke="#c9d4c9" stroke-width="0.75"/>
<ellipse cx="141" cy="590.9" rx="8.2" ry="7" fill="none" stroke="#bccabc" stroke-width="0.75"/>
<ellipse cx="141" cy="590.9" rx="5.8" ry="5" fill="none" stroke="#b0c0b0" stroke-width="0.75"/>
<ellipse cx="141" cy="590.9" rx="3.5" ry="3.1" fill="none" stroke="#a8baa8" stroke-width="0.75"/>
<ellipse cx="141" cy="590.9" rx="1.5" ry="1.4" fill="none" stroke="#a3b6a3" stroke-width="0.75"/>
<path d="M126,606 C134,603.5 147,603.5 151,607 C153,613 146,619 137,619 C130,619 125,613 126,606 Z" fill="#f7f9f7" stroke="#dbe2db" stroke-width="0.7"/>
<path d="M131,607.5 C137,606.5 144,606.5 147.5,608.5 C148.5,612 144,615.5 138.5,615.5 C133,615.5 130.5,611.5 131,607.5 Z" fill="none" stroke="#d3dcd3" stroke-width="0.6"/>
<path d="M159.7,585.9 C162,582 165,581.5 167,581.5 C171,581.3 174,581.5 175.6,582.3 C178,584.5 178.7,588 178.5,591.6 C178.3,595 177.8,598 177,601 C176.2,605 175.5,609 174.9,611.8 C173.5,616 172,619 169.8,620.5 C166,621.8 161,621.8 158.3,621.2 C155.5,620 153.5,618.5 153.2,616.2 C152.6,613 152.5,610 152.8,607.5 C153.5,603 155.5,600 156.8,597.4 C158,593 158.5,589 159.7,585.9 Z" fill="#d4ebd7" stroke="#d8edda" stroke-width="3"/>
<path d="M159.7,585.9 C162,582 165,581.5 167,581.5 C171,581.3 174,581.5 175.6,582.3 C178,584.5 178.7,588 178.5,591.6 C178.3,595 177.8,598 177,601 C176.2,605 175.5,609 174.9,611.8 C173.5,616 172,619 169.8,620.5 C166,621.8 161,621.8 158.3,621.2 C155.5,620 153.5,618.5 153.2,616.2 C152.6,613 152.5,610 152.8,607.5 C153.5,603 155.5,600 156.8,597.4 C158,593 158.5,589 159.7,585.9 Z" fill="none" stroke="#b5dcbc" stroke-width="0.9"/>
<path d="M163.5,585 C166.5,583.5 172,583.4 175,585.5 C177,588.5 176.8,595 175.2,600.5 C173.8,604 170,605.3 166.5,604.3 C162.5,602.8 161.2,597 161.5,592 C161.8,588.5 162,586.5 163.5,585 Z" transform="translate(169,594) scale(1.0) translate(-169,-594)" fill="#c6e6cb" stroke="#b0d9b7" stroke-width="0.80"/>
<path d="M163.5,585 C166.5,583.5 172,583.4 175,585.5 C177,588.5 176.8,595 175.2,600.5 C173.8,604 170,605.3 166.5,604.3 C162.5,602.8 161.2,597 161.5,592 C161.8,588.5 162,586.5 163.5,585 Z" transform="translate(169,594) scale(0.76) translate(-169,-594)" fill="#b6e0bd" stroke="#9dd1a7" stroke-width="1.05"/>
<path d="M163.5,585 C166.5,583.5 172,583.4 175,585.5 C177,588.5 176.8,595 175.2,600.5 C173.8,604 170,605.3 166.5,604.3 C162.5,602.8 161.2,597 161.5,592 C161.8,588.5 162,586.5 163.5,585 Z" transform="translate(169,594) scale(0.52) translate(-169,-594)" fill="#c0e4c6" stroke="#93cd9e" stroke-width="1.54"/>
<path d="M163.5,585 C166.5,583.5 172,583.4 175,585.5 C177,588.5 176.8,595 175.2,600.5 C173.8,604 170,605.3 166.5,604.3 C162.5,602.8 161.2,597 161.5,592 C161.8,588.5 162,586.5 163.5,585 Z" transform="translate(169,594) scale(0.28) translate(-169,-594)" fill="#e0f2e3" stroke="#c0e4c6" stroke-width="2.86"/>
<path d="M157.5,607 C161,604.6 169,604.6 172.5,607.3 C175,610.5 173.5,617 170,619.6 C166,621.3 159.5,621 156.5,618.8 C154.3,616.3 154.5,609.5 157.5,607 Z" transform="translate(162.5,614.2) scale(1.0) translate(-162.5,-614.2)" fill="#c2e4c8" stroke="#a9d6b1" stroke-width="0.80"/>
<path d="M157.5,607 C161,604.6 169,604.6 172.5,607.3 C175,610.5 173.5,617 170,619.6 C166,621.3 159.5,621 156.5,618.8 C154.3,616.3 154.5,609.5 157.5,607 Z" transform="translate(162.5,614.2) scale(0.76) translate(-162.5,-614.2)" fill="#acdab4" stroke="#92cc9e" stroke-width="1.05"/>
<path d="M157.5,607 C161,604.6 169,604.6 172.5,607.3 C175,610.5 173.5,617 170,619.6 C166,621.3 159.5,621 156.5,618.8 C154.3,616.3 154.5,609.5 157.5,607 Z" transform="translate(162.5,614.2) scale(0.52) translate(-162.5,-614.2)" fill="#c5e6ca" stroke="#8ac898" stroke-width="1.54"/>
<path d="M157.5,607 C161,604.6 169,604.6 172.5,607.3 C175,610.5 173.5,617 170,619.6 C166,621.3 159.5,621 156.5,618.8 C154.3,616.3 154.5,609.5 157.5,607 Z" transform="translate(162.5,614.2) scale(0.28) translate(-162.5,-614.2)" fill="#ffffff" stroke="#dcf1df" stroke-width="2.86"/>
</g>
<line x1="151.5" y1="562.5" x2="151.5" y2="634.5" stroke="#3a3a3a" stroke-width="1" stroke-linecap="butt"/>
<line x1="115.5" y1="603.5" x2="188.5" y2="603.5" stroke="#3a3a3a" stroke-width="1" stroke-linecap="butt"/>
<text x="117" y="570.43" font-size="8.7" text-anchor="start" fill="#231f20" textLength="14.56" lengthAdjust="spacingAndGlyphs" stroke="#231f20" stroke-width="0.06">10.9</text>
<text x="187" y="570.43" font-size="8.7" text-anchor="end" fill="#231f20" textLength="14.56" lengthAdjust="spacingAndGlyphs" stroke="#231f20" stroke-width="0.06">42.0</text>
<text x="117" y="633.13" font-size="8.7" text-anchor="start" fill="#231f20" textLength="14.56" lengthAdjust="spacingAndGlyphs" stroke="#231f20" stroke-width="0.06">4.49</text>
<text x="187" y="633.13" font-size="8.7" text-anchor="end" fill="#231f20" textLength="14.56" lengthAdjust="spacingAndGlyphs" stroke="#231f20" stroke-width="0.06">42.6</text>
<line x1="19.6" y1="645.2" x2="19.6" y2="612.3" stroke="#231f20" stroke-width="1.0" stroke-linecap="butt"/>
<polygon points="19.6,608.8 17.5,613 21.7,613" fill="#231f20" stroke="none" stroke-width="0" fill-opacity="1"/>
<line x1="19.6" y1="645.2" x2="52.5" y2="645.2" stroke="#231f20" stroke-width="1.0" stroke-linecap="butt"/>
<polygon points="56,645.2 51.8,643.1 51.8,647.3" fill="#231f20" stroke="none" stroke-width="0" fill-opacity="1"/>
<text transform="translate(11.8,626.4) rotate(-90)" x="0" y="3.1" font-size="8.6" text-anchor="middle" fill="#231f20" textLength="15.2" lengthAdjust="spacingAndGlyphs" stroke="#231f20" stroke-width="0.06">TIGIT</text>
<text x="24.8" y="655.84" font-size="9" text-anchor="start" fill="#231f20" textLength="26.1" lengthAdjust="spacingAndGlyphs" stroke="#231f20" stroke-width="0.06">DNAM-1</text>
<line x1="242" y1="565" x2="242" y2="636.35" stroke="#231f20" stroke-width="1.2" stroke-linecap="butt"/>
<line x1="239" y1="635.75" x2="242" y2="635.75" stroke="#231f20" stroke-width="1.2" stroke-linecap="butt"/>
<text x="236.5" y="638.99" font-size="9" text-anchor="end" fill="#231f20" textLength="10.01" lengthAdjust="spacingAndGlyphs" stroke="#231f20" stroke-width="0.06">0.0</text>
<line x1="239" y1="622" x2="242" y2="622" stroke="#231f20" stroke-width="1.2" stroke-linecap="butt"/>
<text x="236.5" y="625.24" font-size="9" text-anchor="end" fill="#231f20" textLength="10.01" lengthAdjust="spacingAndGlyphs" stroke="#231f20" stroke-width="0.06">0.1</text>
<line x1="239" y1="608.25" x2="242" y2="608.25" stroke="#231f20" stroke-width="1.2" stroke-linecap="butt"/>
<text x="236.5" y="611.49" font-size="9" text-anchor="end" fill="#231f20" textLength="10.01" lengthAdjust="spacingAndGlyphs" stroke="#231f20" stroke-width="0.06">0.2</text>
<line x1="239" y1="594.5" x2="242" y2="594.5" stroke="#231f20" stroke-width="1.2" stroke-linecap="butt"/>
<text x="236.5" y="597.74" font-size="9" text-anchor="end" fill="#231f20" textLength="10.01" lengthAdjust="spacingAndGlyphs" stroke="#231f20" stroke-width="0.06">0.3</text>
<line x1="239" y1="580.75" x2="242" y2="580.75" stroke="#231f20" stroke-width="1.2" stroke-linecap="butt"/>
<text x="236.5" y="583.99" font-size="9" text-anchor="end" fill="#231f20" textLength="10.01" lengthAdjust="spacingAndGlyphs" stroke="#231f20" stroke-width="0.06">0.4</text>
<line x1="239" y1="567" x2="242" y2="567" stroke="#231f20" stroke-width="1.2" stroke-linecap="butt"/>
<text x="236.5" y="570.24" font-size="9" text-anchor="end" fill="#231f20" textLength="10.01" lengthAdjust="spacingAndGlyphs" stroke="#231f20" stroke-width="0.06">0.5</text>
<line x1="241.4" y1="635.75" x2="288" y2="635.75" stroke="#231f20" stroke-width="1.2" stroke-linecap="butt"/>
<rect x="249.5" y="623" width="13.5" height="12.3" fill="#8e9cc9" stroke="none" stroke-width="0" fill-opacity="1"/>
<rect x="267.5" y="607.5" width="13.75" height="27.8" fill="#abd395" stroke="none" stroke-width="0" fill-opacity="1"/>
<rect x="255.3" y="607.1" width="2.4" height="2.4" fill="#1d3a78" stroke="none" stroke-width="0" fill-opacity="1"/>
<rect x="254.3" y="609.3" width="2.4" height="2.4" fill="#1d3a78" stroke="none" stroke-width="0" fill-opacity="1"/>
<rect x="255.3" y="610.8" width="2.4" height="2.4" fill="#1d3a78" stroke="none" stroke-width="0" fill-opacity="1"/>
<rect x="251.8" y="619.3" width="2.4" height="2.4" fill="#1d3a78" stroke="none" stroke-width="0" fill-opacity="1"/>
<rect x="256.8" y="620.8" width="2.4" height="2.4" fill="#1d3a78" stroke="none" stroke-width="0" fill-opacity="1"/>
<rect x="254.3" y="624.8" width="2.4" height="2.4" fill="#1d3a78" stroke="none" stroke-width="0" fill-opacity="1"/>
<rect x="251.8" y="628.8" width="2.4" height="2.4" fill="#1d3a78" stroke="none" stroke-width="0" fill-opacity="1"/>
<rect x="257.3" y="629.8" width="2.4" height="2.4" fill="#1d3a78" stroke="none" stroke-width="0" fill-opacity="1"/>
<rect x="254.8" y="631.8" width="2.4" height="2.4" fill="#1d3a78" stroke="none" stroke-width="0" fill-opacity="1"/>
<rect x="251.8" y="632.3" width="2.4" height="2.4" fill="#1d3a78" stroke="none" stroke-width="0" fill-opacity="1"/>
<line x1="256.25" y1="617.7" x2="256.25" y2="628" stroke="#1d3a78" stroke-width="0.8" stroke-linecap="butt"/>
<line x1="253.75" y1="617.7" x2="258.75" y2="617.7" stroke="#1d3a78" stroke-width="0.8" stroke-linecap="butt"/>
<line x1="253.75" y1="628" x2="258.75" y2="628" stroke="#1d3a78" stroke-width="0.8" stroke-linecap="butt"/>
<polygon points="274.4,571.17 273.15,573.62 275.65,573.62" fill="#3fa041" stroke="none" stroke-width="0" fill-opacity="1"/>
<polygon points="274.4,591.97 273.15,594.42 275.65,594.42" fill="#3fa041" stroke="none" stroke-width="0" fill-opacity="1"/>
<polygon points="274.4,596.17 273.15,598.62 275.65,598.62" fill="#3fa041" stroke="none" stroke-width="0" fill-opacity="1"/>
<polygon points="272,600.17 270.75,602.62 273.25,602.62" fill="#3fa041" stroke="none" stroke-width="0" fill-opacity="1"/>
<polygon points="276.8,603.67 275.55,606.12 278.05,606.12" fill="#3fa041" stroke="none" stroke-width="0" fill-opacity="1"/>
<polygon points="274.4,610.67 273.15,613.12 275.65,613.12" fill="#3fa041" stroke="none" stroke-width="0" fill-opacity="1"/>
<polygon points="272,617.17 270.75,619.62 273.25,619.62" fill="#3fa041" stroke="none" stroke-width="0" fill-opacity="1"/>
<polygon points="276.8,619.17 275.55,621.62 278.05,621.62" fill="#3fa041" stroke="none" stroke-width="0" fill-opacity="1"/>
<polygon points="274.4,627.17 273.15,629.62 275.65,629.62" fill="#3fa041" stroke="none" stroke-width="0" fill-opacity="1"/>
<line x1="274.4" y1="601.5" x2="274.4" y2="613.5" stroke="#3fa041" stroke-width="0.8" stroke-linecap="butt"/>
<line x1="271.9" y1="601.5" x2="276.9" y2="601.5" stroke="#3fa041" stroke-width="0.8" stroke-linecap="butt"/>
<line x1="271.9" y1="613.5" x2="276.9" y2="613.5" stroke="#3fa041" stroke-width="0.8" stroke-linecap="butt"/>
<polyline points="256.25,567.5 256.25,563.25 274.5,563.25 274.5,567.5" fill="none" stroke="#231f20" stroke-width="1.0" />
<path d="M265.38,558.3L265.38,560.7M266.41,558.9L264.34,560.1M266.41,560.1L264.34,558.9" stroke="#231f20" stroke-width="0.65" fill="none" stroke-linecap="round"/>
<circle cx="265.38" cy="559.5" r="0.85" fill="#231f20"/>
<text transform="translate(205.5,599.12) rotate(-90)" x="0" y="3.35" font-size="9.3" text-anchor="middle" fill="#231f20" textLength="85.75" lengthAdjust="spacingAndGlyphs" stroke="#231f20" stroke-width="0.06">DNAM-1<tspan baseline-shift="super" font-size="5.2">+</tspan>TIGIT<tspan baseline-shift="super" font-size="5.2">+</tspan>mobilized</text>
<text transform="translate(218,597.88) rotate(-90)" x="0" y="3.35" font-size="9.3" text-anchor="middle" fill="#231f20" textLength="76.75" lengthAdjust="spacingAndGlyphs" stroke="#231f20" stroke-width="0.06">CD8 T cell (×10<tspan baseline-shift="super" font-size="5.2">5</tspan>/femur)</text>
<line x1="354.7" y1="564.6" x2="354.7" y2="636.8" stroke="#231f20" stroke-width="1.2" stroke-linecap="butt"/>
<line x1="351.7" y1="636.2" x2="354.7" y2="636.2" stroke="#231f20" stroke-width="1.2" stroke-linecap="butt"/>
<text x="349.4" y="639.44" font-size="9" text-anchor="end" fill="#231f20" textLength="10.01" lengthAdjust="spacingAndGlyphs" stroke="#231f20" stroke-width="0.06">0.0</text>
<line x1="351.7" y1="618.9" x2="354.7" y2="618.9" stroke="#231f20" stroke-width="1.2" stroke-linecap="butt"/>
<text x="349.4" y="622.14" font-size="9" text-anchor="end" fill="#231f20" textLength="10.01" lengthAdjust="spacingAndGlyphs" stroke="#231f20" stroke-width="0.06">0.1</text>
<line x1="351.7" y1="601.5" x2="354.7" y2="601.5" stroke="#231f20" stroke-width="1.2" stroke-linecap="butt"/>
<text x="349.4" y="604.74" font-size="9" text-anchor="end" fill="#231f20" textLength="10.01" lengthAdjust="spacingAndGlyphs" stroke="#231f20" stroke-width="0.06">0.2</text>
<line x1="351.7" y1="584.2" x2="354.7" y2="584.2" stroke="#231f20" stroke-width="1.2" stroke-linecap="butt"/>
<text x="349.4" y="587.44" font-size="9" text-anchor="end" fill="#231f20" textLength="10.01" lengthAdjust="spacingAndGlyphs" stroke="#231f20" stroke-width="0.06">0.3</text>
<line x1="351.7" y1="566.5" x2="354.7" y2="566.5" stroke="#231f20" stroke-width="1.2" stroke-linecap="butt"/>
<text x="349.4" y="569.74" font-size="9" text-anchor="end" fill="#231f20" textLength="10.01" lengthAdjust="spacingAndGlyphs" stroke="#231f20" stroke-width="0.06">0.4</text>
<line x1="354.1" y1="636.2" x2="400.4" y2="636.2" stroke="#231f20" stroke-width="1.2" stroke-linecap="butt"/>
<rect x="361.8" y="624.6" width="13.2" height="11.2" fill="#8e9cc9" stroke="none" stroke-width="0" fill-opacity="1"/>
<rect x="379.6" y="611.9" width="13.4" height="23.9" fill="#abd395" stroke="none" stroke-width="0" fill-opacity="1"/>
<rect x="362.3" y="611.3" width="2.4" height="2.4" fill="#1d3a78" stroke="none" stroke-width="0" fill-opacity="1"/>
<rect x="366.8" y="611.3" width="2.4" height="2.4" fill="#1d3a78" stroke="none" stroke-width="0" fill-opacity="1"/>
<rect x="371.3" y="611.3" width="2.4" height="2.4" fill="#1d3a78" stroke="none" stroke-width="0" fill-opacity="1"/>
<rect x="364.3" y="615.8" width="2.4" height="2.4" fill="#1d3a78" stroke="none" stroke-width="0" fill-opacity="1"/>
<rect x="367.3" y="622.8" width="2.4" height="2.4" fill="#1d3a78" stroke="none" stroke-width="0" fill-opacity="1"/>
<rect x="363.8" y="626.8" width="2.4" height="2.4" fill="#1d3a78" stroke="none" stroke-width="0" fill-opacity="1"/>
<rect x="369.8" y="627.8" width="2.4" height="2.4" fill="#1d3a78" stroke="none" stroke-width="0" fill-opacity="1"/>
<rect x="367.2" y="632.3" width="2.4" height="2.4" fill="#1d3a78" stroke="none" stroke-width="0" fill-opacity="1"/>
<rect x="362.8" y="632.8" width="2.4" height="2.4" fill="#1d3a78" stroke="none" stroke-width="0" fill-opacity="1"/>
<rect x="370.8" y="632.8" width="2.4" height="2.4" fill="#1d3a78" stroke="none" stroke-width="0" fill-opacity="1"/>
<line x1="368.4" y1="620.3" x2="368.4" y2="629" stroke="#1d3a78" stroke-width="0.8" stroke-linecap="butt"/>
<line x1="365.9" y1="620.3" x2="370.9" y2="620.3" stroke="#1d3a78" stroke-width="0.8" stroke-linecap="butt"/>
<line x1="365.9" y1="629" x2="370.9" y2="629" stroke="#1d3a78" stroke-width="0.8" stroke-linecap="butt"/>
<polygon points="386.3,580.67 385.05,583.12 387.55,583.12" fill="#3fa041" stroke="none" stroke-width="0" fill-opacity="1"/>
<polygon points="386.3,598.67 385.05,601.12 387.55,601.12" fill="#3fa041" stroke="none" stroke-width="0" fill-opacity="1"/>
<polygon points="386.3,609.67 385.05,612.12 387.55,612.12" fill="#3fa041" stroke="none" stroke-width="0" fill-opacity="1"/>
<polygon points="383,616.67 381.75,619.12 384.25,619.12" fill="#3fa041" stroke="none" stroke-width="0" fill-opacity="1"/>
<polygon points="389.5,617.17 388.25,619.62 390.75,619.62" fill="#3fa041" stroke="none" stroke-width="0" fill-opacity="1"/>
<polygon points="386.3,627.17 385.05,629.62 387.55,629.62" fill="#3fa041" stroke="none" stroke-width="0" fill-opacity="1"/>
<line x1="386.3" y1="606.6" x2="386.3" y2="617" stroke="#3fa041" stroke-width="0.8" stroke-linecap="butt"/>
<line x1="383.8" y1="606.6" x2="388.8" y2="606.6" stroke="#3fa041" stroke-width="0.8" stroke-linecap="butt"/>
<line x1="383.8" y1="617" x2="388.8" y2="617" stroke="#3fa041" stroke-width="0.8" stroke-linecap="butt"/>
<polyline points="368.1,577.3 368.1,573.4 386.5,573.4 386.5,577.3" fill="none" stroke="#231f20" stroke-width="1.0" />
<path d="M377.3,568.5L377.3,570.9M378.34,569.1L376.26,570.3M378.34,570.3L376.26,569.1" stroke="#231f20" stroke-width="0.65" fill="none" stroke-linecap="round"/>
<circle cx="377.3" cy="569.7" r="0.85" fill="#231f20"/>
<text transform="translate(303.5,599.15) rotate(-90)" x="0" y="3.35" font-size="9.3" text-anchor="middle" fill="#231f20" textLength="73.7" lengthAdjust="spacingAndGlyphs" stroke="#231f20" stroke-width="0.06">IFNγ<tspan baseline-shift="super" font-size="5.2">+</tspan>DNAM-1<tspan baseline-shift="super" font-size="5.2">+</tspan>TIGIT<tspan baseline-shift="super" font-size="5.2">+</tspan></text>
<text transform="translate(316.6,599.25) rotate(-90)" x="0" y="3.35" font-size="9.3" text-anchor="middle" fill="#231f20" textLength="64.5" lengthAdjust="spacingAndGlyphs" stroke="#231f20" stroke-width="0.06">mobilized CD8 T cell</text>
<text transform="translate(329.5,599.8) rotate(-90)" x="0" y="3.35" font-size="9.3" text-anchor="middle" fill="#231f20" textLength="45" lengthAdjust="spacingAndGlyphs" stroke="#231f20" stroke-width="0.06">(×10<tspan baseline-shift="super" font-size="5.2">5</tspan>/femur)</text>
<rect x="481.6" y="540.7" width="3.8" height="3.8" fill="#1f3f80" stroke="none" stroke-width="0" fill-opacity="1"/>
<text x="488.4" y="545.48" font-size="8" text-anchor="start" fill="#231f20" textLength="24.7" lengthAdjust="spacingAndGlyphs" stroke="#231f20" stroke-width="0.06">Vehicle</text>
<polygon points="483.5,551.42 481.3,555.58 485.7,555.58" fill="#3da53d" stroke="none" stroke-width="0" fill-opacity="1"/>
<text x="488.4" y="556.38" font-size="8" text-anchor="start" fill="#231f20" textLength="24.2" lengthAdjust="spacingAndGlyphs" stroke="#231f20" stroke-width="0.06">NL-201</text>
<line x1="465.8" y1="564.3" x2="465.8" y2="636.5" stroke="#231f20" stroke-width="1.2" stroke-linecap="butt"/>
<line x1="462.8" y1="635.9" x2="465.8" y2="635.9" stroke="#231f20" stroke-width="1.2" stroke-linecap="butt"/>
<text x="460.5" y="639.14" font-size="9" text-anchor="end" fill="#231f20" textLength="10.01" lengthAdjust="spacingAndGlyphs" stroke="#231f20" stroke-width="0.06">0.0</text>
<line x1="462.8" y1="601.2" x2="465.8" y2="601.2" stroke="#231f20" stroke-width="1.2" stroke-linecap="butt"/>
<text x="460.5" y="604.44" font-size="9" text-anchor="end" fill="#231f20" textLength="10.01" lengthAdjust="spacingAndGlyphs" stroke="#231f20" stroke-width="0.06">0.1</text>
<line x1="462.8" y1="567.3" x2="465.8" y2="567.3" stroke="#231f20" stroke-width="1.2" stroke-linecap="butt"/>
<text x="460.5" y="570.54" font-size="9" text-anchor="end" fill="#231f20" textLength="10.01" lengthAdjust="spacingAndGlyphs" stroke="#231f20" stroke-width="0.06">0.2</text>
<line x1="465.2" y1="635.9" x2="513.1" y2="635.9" stroke="#231f20" stroke-width="1.2" stroke-linecap="butt"/>
<rect x="473.8" y="626.2" width="13.9" height="9.3" fill="#8e9cc9" stroke="none" stroke-width="0" fill-opacity="1"/>
<rect x="491.9" y="620.4" width="13.8" height="15.1" fill="#abd395" stroke="none" stroke-width="0" fill-opacity="1"/>
<rect x="479.55" y="600.85" width="2.3" height="2.3" fill="#1d3a78" stroke="none" stroke-width="0" fill-opacity="1"/>
<rect x="479.55" y="612.85" width="2.3" height="2.3" fill="#1d3a78" stroke="none" stroke-width="0" fill-opacity="1"/>
<rect x="476.85" y="617.85" width="2.3" height="2.3" fill="#1d3a78" stroke="none" stroke-width="0" fill-opacity="1"/>
<rect x="481.85" y="619.85" width="2.3" height="2.3" fill="#1d3a78" stroke="none" stroke-width="0" fill-opacity="1"/>
<rect x="479.55" y="626.85" width="2.3" height="2.3" fill="#1d3a78" stroke="none" stroke-width="0" fill-opacity="1"/>
<rect x="475.85" y="628.85" width="2.3" height="2.3" fill="#1d3a78" stroke="none" stroke-width="0" fill-opacity="1"/>
<rect x="482.85" y="629.85" width="2.3" height="2.3" fill="#1d3a78" stroke="none" stroke-width="0" fill-opacity="1"/>
<rect x="477.35" y="632.85" width="2.3" height="2.3" fill="#1d3a78" stroke="none" stroke-width="0" fill-opacity="1"/>
<rect x="481.35" y="632.85" width="2.3" height="2.3" fill="#1d3a78" stroke="none" stroke-width="0" fill-opacity="1"/>
<line x1="480.7" y1="622" x2="480.7" y2="629" stroke="#1d3a78" stroke-width="0.8" stroke-linecap="butt"/>
<line x1="478.2" y1="622" x2="483.2" y2="622" stroke="#1d3a78" stroke-width="0.8" stroke-linecap="butt"/>
<line x1="478.2" y1="629" x2="483.2" y2="629" stroke="#1d3a78" stroke-width="0.8" stroke-linecap="butt"/>
<polygon points="498.8,595.72 497.6,598.08 500,598.08" fill="#3fa041" stroke="none" stroke-width="0" fill-opacity="1"/>
<polygon points="498.8,602.72 497.6,605.08 500,605.08" fill="#3fa041" stroke="none" stroke-width="0" fill-opacity="1"/>
<polygon points="498.8,613.72 497.6,616.08 500,616.08" fill="#3fa041" stroke="none" stroke-width="0" fill-opacity="1"/>
<polygon points="496,619.72 494.8,622.08 497.2,622.08" fill="#3fa041" stroke="none" stroke-width="0" fill-opacity="1"/>
<polygon points="501.5,620.72 500.3,623.08 502.7,623.08" fill="#3fa041" stroke="none" stroke-width="0" fill-opacity="1"/>
<polygon points="498.8,626.72 497.6,629.08 500,629.08" fill="#3fa041" stroke="none" stroke-width="0" fill-opacity="1"/>
<polygon points="496.5,630.72 495.3,633.08 497.7,633.08" fill="#3fa041" stroke="none" stroke-width="0" fill-opacity="1"/>
<polygon points="501,631.72 499.8,634.08 502.2,634.08" fill="#3fa041" stroke="none" stroke-width="0" fill-opacity="1"/>
<line x1="498.8" y1="616" x2="498.8" y2="624" stroke="#3fa041" stroke-width="0.8" stroke-linecap="butt"/>
<line x1="496.3" y1="616" x2="501.3" y2="616" stroke="#3fa041" stroke-width="0.8" stroke-linecap="butt"/>
<line x1="496.3" y1="624" x2="501.3" y2="624" stroke="#3fa041" stroke-width="0.8" stroke-linecap="butt"/>
<text transform="translate(419.6,599.65) rotate(-90)" x="0" y="3.35" font-size="9.3" text-anchor="middle" fill="#231f20" textLength="78.5" lengthAdjust="spacingAndGlyphs" stroke="#231f20" stroke-width="0.06">GzmB<tspan baseline-shift="super" font-size="5.2">+</tspan>DNAM-1<tspan baseline-shift="super" font-size="5.2">+</tspan>PD-1<tspan baseline-shift="super" font-size="5.2">+</tspan></text>
<text transform="translate(432.3,601.35) rotate(-90)" x="0" y="3.35" font-size="9.3" text-anchor="middle" fill="#231f20" textLength="65.7" lengthAdjust="spacingAndGlyphs" stroke="#231f20" stroke-width="0.06">mobilized CD8 T cell</text>
<text transform="translate(444.3,600.8) rotate(-90)" x="0" y="3.35" font-size="9.3" text-anchor="middle" fill="#231f20" textLength="50.8" lengthAdjust="spacingAndGlyphs" stroke="#231f20" stroke-width="0.06">(×10<tspan baseline-shift="super" font-size="5.2">5</tspan>/femur)</text>
</svg><div class="bd"></div></div>
</body></html>
